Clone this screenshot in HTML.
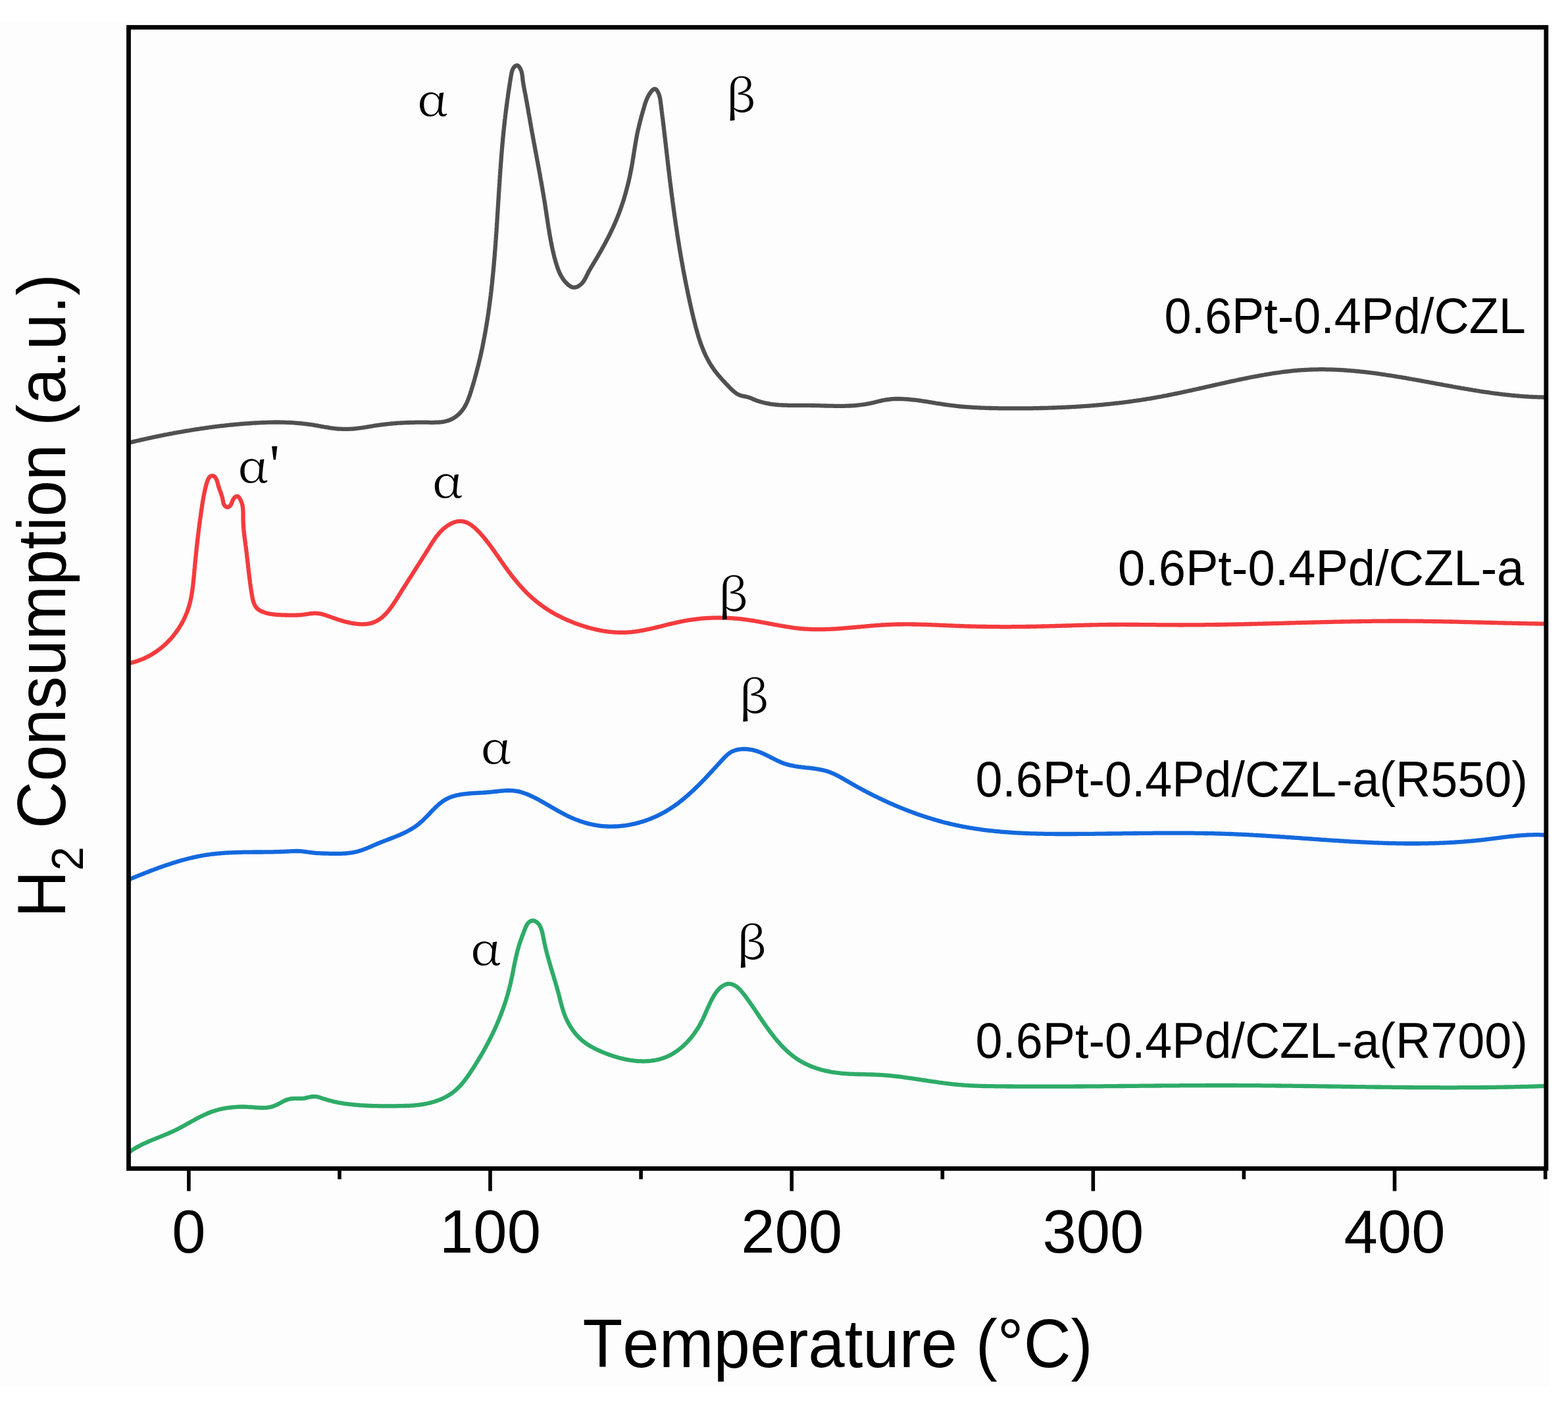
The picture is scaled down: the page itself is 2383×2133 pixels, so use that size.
<!DOCTYPE html><html><head><meta charset="utf-8"><title>H2-TPR</title><style>html,body{margin:0;padding:0;background:#fff;}svg{display:block;font-kerning:none}</style></head><body>
<svg width="2383" height="2133" viewBox="0 0 2383 2133">
<rect x="0" y="0" width="2383" height="2133" fill="#ffffff"/>
<rect x="0" y="33" width="2356" height="2074" fill="#fdfdfd"/>
<g fill="none" stroke-width="6.3" stroke-linejoin="round" stroke-linecap="butt">
<path stroke="#505050" d="M195.5 672.7 L197.4 672.3 L199.4 671.8 L201.3 671.4 L203.3 670.9 L205.2 670.4 L207.2 670.0 L209.1 669.5 L211.1 669.1 L213.0 668.6 L215.0 668.2 L216.9 667.8 L218.9 667.3 L220.8 666.9 L222.8 666.5 L224.7 666.0 L226.7 665.6 L228.6 665.2 L230.6 664.8 L232.5 664.3 L234.5 663.9 L236.4 663.5 L238.4 663.1 L240.4 662.7 L242.3 662.3 L244.3 661.9 L246.2 661.5 L248.2 661.1 L250.2 660.7 L252.1 660.3 L254.1 660.0 L256.0 659.6 L258.0 659.2 L260.0 658.8 L261.9 658.5 L263.9 658.1 L265.9 657.7 L267.8 657.4 L269.8 657.0 L271.8 656.7 L273.7 656.3 L275.7 656.0 L277.7 655.6 L279.6 655.3 L281.6 654.9 L283.6 654.6 L285.6 654.3 L287.5 654.0 L289.5 653.6 L291.5 653.3 L293.5 653.0 L295.4 652.7 L297.4 652.4 L299.4 652.1 L301.4 651.8 L303.3 651.5 L305.3 651.2 L307.3 650.9 L309.3 650.6 L311.3 650.3 L313.2 650.0 L315.2 649.8 L317.2 649.5 L319.2 649.2 L321.2 649.0 L323.1 648.7 L325.1 648.5 L327.1 648.2 L329.1 648.0 L331.1 647.7 L333.1 647.5 L335.0 647.2 L337.0 647.0 L339.0 646.8 L341.0 646.6 L343.0 646.3 L345.0 646.1 L347.0 645.9 L349.0 645.7 L350.9 645.5 L352.9 645.3 L354.9 645.1 L356.9 644.9 L358.9 644.7 L360.9 644.6 L362.9 644.4 L364.9 644.2 L366.9 644.0 L368.9 643.9 L370.9 643.7 L372.9 643.6 L374.9 643.4 L376.8 643.3 L378.8 643.1 L380.8 643.0 L382.8 642.9 L384.8 642.7 L386.8 642.6 L388.8 642.5 L390.8 642.4 L392.8 642.3 L394.8 642.2 L396.8 642.1 L398.8 642.0 L400.8 641.9 L402.8 641.8 L404.8 641.8 L406.8 641.7 L408.8 641.7 L410.8 641.6 L412.8 641.6 L414.8 641.6 L416.8 641.5 L418.8 641.5 L420.8 641.5 L422.8 641.5 L424.8 641.5 L426.8 641.6 L428.8 641.6 L430.8 641.6 L432.8 641.7 L434.8 641.8 L436.8 641.8 L438.8 641.9 L440.8 642.0 L442.8 642.1 L444.8 642.2 L446.8 642.3 L448.8 642.5 L450.8 642.6 L452.7 642.8 L454.7 643.0 L456.7 643.2 L458.7 643.4 L460.7 643.6 L462.7 643.8 L464.7 644.0 L466.7 644.3 L468.6 644.5 L470.6 644.8 L472.6 645.1 L474.6 645.4 L476.6 645.7 L478.5 646.1 L480.5 646.4 L482.5 646.7 L484.4 647.1 L486.4 647.4 L488.4 647.8 L490.3 648.1 L492.3 648.5 L494.3 648.8 L496.3 649.1 L498.2 649.4 L500.2 649.8 L502.2 650.1 L504.2 650.3 L506.1 650.6 L508.1 650.8 L510.1 651.1 L512.1 651.3 L514.1 651.5 L516.1 651.6 L518.1 651.7 L520.1 651.8 L522.1 651.9 L524.1 651.9 L526.1 651.9 L528.1 651.9 L530.1 651.8 L532.1 651.7 L534.1 651.6 L536.1 651.5 L538.1 651.3 L540.0 651.1 L542.0 650.9 L544.0 650.6 L546.0 650.4 L548.0 650.1 L550.0 649.9 L551.9 649.6 L553.9 649.3 L555.9 649.0 L557.9 648.6 L559.8 648.3 L561.8 648.0 L563.8 647.7 L565.8 647.4 L567.7 647.0 L569.7 646.7 L571.7 646.4 L573.7 646.1 L575.6 645.8 L577.6 645.5 L579.6 645.3 L581.6 645.0 L583.6 644.8 L585.6 644.5 L587.5 644.3 L589.5 644.1 L591.5 643.9 L593.5 643.7 L595.5 643.5 L597.5 643.3 L599.5 643.2 L601.5 643.0 L603.5 642.9 L605.5 642.7 L607.5 642.6 L609.5 642.5 L611.5 642.4 L613.5 642.3 L615.4 642.2 L617.4 642.1 L619.4 642.0 L621.4 642.0 L623.4 641.9 L625.4 641.9 L627.4 641.8 L629.4 641.8 L631.4 641.7 L633.4 641.7 L635.4 641.7 L637.4 641.7 L639.4 641.7 L641.4 641.7 L643.4 641.7 L645.4 641.7 L647.4 641.7 L649.4 641.7 L651.4 641.7 L653.4 641.8 L655.4 641.8 L657.4 641.8 L659.4 641.8 L661.4 641.7 L663.4 641.7 L665.4 641.6 L667.4 641.5 L669.4 641.3 L671.4 641.1 L673.4 640.8 L675.4 640.5 L677.3 640.0 L679.2 639.5 L681.2 639.0 L683.0 638.3 L684.9 637.5 L686.7 636.7 L688.4 635.7 L690.2 634.7 L691.8 633.6 L693.4 632.4 L695.0 631.2 L696.5 629.8 L698.0 628.5 L699.4 627.0 L700.7 625.6 L702.0 624.0 L703.2 622.4 L704.4 620.8 L705.5 619.1 L706.5 617.4 L707.5 615.7 L708.4 613.9 L709.3 612.1 L710.1 610.3 L710.9 608.4 L711.6 606.6 L712.3 604.7 L713.0 602.8 L713.7 601.0 L714.3 599.1 L714.9 597.2 L715.6 595.3 L716.2 593.3 L716.7 591.4 L717.3 589.5 L717.9 587.6 L718.5 585.7 L719.1 583.8 L719.6 581.9 L720.2 579.9 L720.7 578.0 L721.3 576.1 L721.8 574.2 L722.3 572.2 L722.9 570.3 L723.4 568.4 L723.9 566.5 L724.4 564.5 L724.9 562.6 L725.4 560.6 L725.9 558.7 L726.4 556.8 L726.9 554.8 L727.4 552.9 L727.8 550.9 L728.3 549.0 L728.8 547.1 L729.2 545.1 L729.7 543.2 L730.1 541.2 L730.6 539.3 L731.0 537.3 L731.4 535.4 L731.8 533.4 L732.3 531.4 L732.7 529.5 L733.1 527.5 L733.5 525.6 L733.9 523.6 L734.3 521.7 L734.7 519.7 L735.0 517.7 L735.4 515.8 L735.8 513.8 L736.2 511.8 L736.5 509.9 L736.9 507.9 L737.3 505.9 L737.6 504.0 L738.0 502.0 L738.3 500.0 L738.6 498.1 L739.0 496.1 L739.3 494.1 L739.6 492.1 L739.9 490.2 L740.3 488.2 L740.6 486.2 L740.9 484.2 L741.2 482.3 L741.5 480.3 L741.8 478.3 L742.1 476.3 L742.4 474.4 L742.6 472.4 L742.9 470.4 L743.2 468.4 L743.5 466.4 L743.7 464.5 L744.0 462.5 L744.3 460.5 L744.5 458.5 L744.8 456.5 L745.0 454.5 L745.3 452.6 L745.5 450.6 L745.8 448.6 L746.0 446.6 L746.2 444.6 L746.5 442.6 L746.7 440.6 L746.9 438.7 L747.1 436.7 L747.4 434.7 L747.6 432.7 L747.8 430.7 L748.0 428.7 L748.2 426.7 L748.4 424.7 L748.6 422.8 L748.8 420.8 L749.0 418.8 L749.2 416.8 L749.4 414.8 L749.6 412.8 L749.8 410.8 L750.0 408.8 L750.1 406.8 L750.3 404.8 L750.5 402.9 L750.7 400.9 L750.8 398.9 L751.0 396.9 L751.2 394.9 L751.3 392.9 L751.5 390.9 L751.7 388.9 L751.8 386.9 L752.0 384.9 L752.1 382.9 L752.3 380.9 L752.5 378.9 L752.6 376.9 L752.8 374.9 L752.9 373.0 L753.1 371.0 L753.2 369.0 L753.3 367.0 L753.5 365.0 L753.6 363.0 L753.8 361.0 L753.9 359.0 L754.0 357.0 L754.2 355.0 L754.3 353.0 L754.5 351.0 L754.6 349.0 L754.7 347.0 L754.9 345.0 L755.0 343.0 L755.1 341.0 L755.2 339.0 L755.4 337.0 L755.5 335.1 L755.6 333.1 L755.8 331.1 L755.9 329.1 L756.0 327.1 L756.1 325.1 L756.3 323.1 L756.4 321.1 L756.5 319.1 L756.6 317.1 L756.8 315.1 L756.9 313.1 L757.0 311.1 L757.1 309.1 L757.3 307.1 L757.4 305.1 L757.5 303.1 L757.6 301.1 L757.8 299.1 L757.9 297.1 L758.0 295.1 L758.1 293.1 L758.3 291.2 L758.4 289.2 L758.5 287.2 L758.6 285.2 L758.8 283.2 L758.9 281.2 L759.0 279.2 L759.2 277.2 L759.3 275.2 L759.4 273.2 L759.6 271.2 L759.7 269.2 L759.8 267.2 L760.0 265.2 L760.1 263.2 L760.2 261.2 L760.4 259.2 L760.5 257.2 L760.7 255.2 L760.8 253.2 L761.0 251.3 L761.1 249.3 L761.3 247.3 L761.4 245.3 L761.6 243.3 L761.7 241.3 L761.9 239.3 L762.0 237.3 L762.2 235.3 L762.3 233.3 L762.5 231.3 L762.7 229.3 L762.8 227.3 L763.0 225.3 L763.2 223.3 L763.3 221.4 L763.5 219.4 L763.7 217.4 L763.9 215.4 L764.1 213.4 L764.2 211.4 L764.4 209.4 L764.6 207.4 L764.8 205.4 L765.0 203.4 L765.2 201.4 L765.4 199.5 L765.6 197.5 L765.8 195.5 L766.0 193.5 L766.2 191.5 L766.5 189.5 L766.7 187.5 L766.9 185.5 L767.1 183.6 L767.3 181.6 L767.6 179.6 L767.8 177.6 L768.0 175.6 L768.3 173.6 L768.5 171.6 L768.8 169.7 L769.0 167.7 L769.3 165.7 L769.5 163.7 L769.8 161.7 L770.0 159.7 L770.3 157.8 L770.6 155.8 L770.8 153.8 L771.1 151.8 L771.4 149.8 L771.7 147.9 L771.9 145.9 L772.2 143.9 L772.5 141.9 L772.8 139.9 L773.1 138.0 L773.4 136.0 L773.7 134.0 L774.0 132.0 L774.3 130.1 L774.6 128.1 L774.9 126.1 L775.2 124.1 L775.5 122.2 L775.8 120.2 L776.2 118.2 L776.5 116.2 L776.8 114.3 L777.2 112.3 L777.6 110.3 L778.1 108.4 L778.7 106.5 L779.5 104.7 L780.5 103.0 L781.8 101.4 L783.3 100.1 L785.1 99.3 L787.0 99.7 L788.5 101.0 L789.7 102.6 L790.7 104.3 L791.6 106.1 L792.3 108.0 L792.9 109.9 L793.3 111.9 L793.6 113.8 L793.9 115.8 L794.1 117.8 L794.3 119.8 L794.5 121.8 L794.8 123.8 L795.1 125.7 L795.4 127.7 L795.7 129.7 L796.1 131.7 L796.5 133.6 L796.8 135.6 L797.2 137.5 L797.6 139.5 L798.0 141.5 L798.4 143.4 L798.8 145.4 L799.1 147.4 L799.5 149.3 L799.8 151.3 L800.2 153.3 L800.6 155.2 L800.9 157.2 L801.3 159.2 L801.6 161.1 L802.0 163.1 L802.3 165.1 L802.7 167.0 L803.0 169.0 L803.3 171.0 L803.7 173.0 L804.0 174.9 L804.4 176.9 L804.7 178.9 L805.1 180.8 L805.4 182.8 L805.7 184.8 L806.1 186.7 L806.4 188.7 L806.8 190.7 L807.1 192.6 L807.5 194.6 L807.8 196.6 L808.2 198.6 L808.5 200.5 L808.9 202.5 L809.3 204.5 L809.6 206.4 L810.0 208.4 L810.3 210.4 L810.7 212.3 L811.1 214.3 L811.4 216.3 L811.8 218.2 L812.2 220.2 L812.5 222.2 L812.9 224.1 L813.2 226.1 L813.6 228.1 L814.0 230.0 L814.3 232.0 L814.7 233.9 L815.1 235.9 L815.4 237.9 L815.8 239.8 L816.2 241.8 L816.5 243.8 L816.9 245.7 L817.3 247.7 L817.6 249.7 L818.0 251.6 L818.4 253.6 L818.7 255.6 L819.1 257.5 L819.4 259.5 L819.8 261.5 L820.2 263.4 L820.5 265.4 L820.9 267.4 L821.2 269.3 L821.6 271.3 L821.9 273.3 L822.3 275.2 L822.6 277.2 L823.0 279.2 L823.3 281.2 L823.7 283.1 L824.0 285.1 L824.4 287.1 L824.7 289.0 L825.0 291.0 L825.4 293.0 L825.7 294.9 L826.0 296.9 L826.4 298.9 L826.7 300.9 L827.0 302.8 L827.4 304.8 L827.7 306.8 L828.0 308.8 L828.3 310.7 L828.6 312.7 L828.9 314.7 L829.2 316.7 L829.5 318.6 L829.8 320.6 L830.1 322.6 L830.4 324.6 L830.7 326.5 L831.0 328.5 L831.3 330.5 L831.6 332.5 L831.9 334.4 L832.2 336.4 L832.5 338.4 L832.8 340.4 L833.1 342.4 L833.4 344.3 L833.7 346.3 L834.1 348.3 L834.4 350.3 L834.7 352.2 L835.0 354.2 L835.4 356.2 L835.7 358.1 L836.0 360.1 L836.4 362.1 L836.8 364.0 L837.1 366.0 L837.5 368.0 L837.9 369.9 L838.3 371.9 L838.7 373.9 L839.1 375.8 L839.5 377.8 L839.9 379.7 L840.4 381.7 L840.8 383.6 L841.3 385.6 L841.8 387.5 L842.2 389.5 L842.7 391.4 L843.3 393.3 L843.8 395.2 L844.3 397.2 L844.9 399.1 L845.5 401.0 L846.1 402.9 L846.7 404.8 L847.3 406.7 L848.0 408.6 L848.7 410.5 L849.5 412.3 L850.2 414.1 L851.1 416.0 L852.0 417.7 L852.9 419.5 L854.0 421.2 L855.0 422.9 L856.2 424.6 L857.4 426.2 L858.6 427.7 L860.0 429.2 L861.4 430.6 L862.8 432.0 L864.3 433.3 L866.0 434.5 L867.7 435.5 L869.5 436.2 L871.5 436.7 L873.5 436.7 L875.4 436.4 L877.3 435.7 L879.1 434.7 L880.8 433.6 L882.3 432.4 L883.8 431.1 L885.2 429.6 L886.4 428.0 L887.6 426.4 L888.6 424.7 L889.6 423.0 L890.5 421.2 L891.3 419.4 L892.2 417.6 L893.1 415.8 L894.0 414.0 L895.0 412.2 L895.9 410.5 L896.9 408.8 L897.9 407.0 L898.9 405.3 L900.0 403.6 L901.0 401.9 L902.0 400.1 L903.1 398.4 L904.1 396.7 L905.1 395.0 L906.1 393.3 L907.1 391.6 L908.2 389.8 L909.2 388.1 L910.2 386.4 L911.2 384.7 L912.2 382.9 L913.2 381.2 L914.2 379.5 L915.1 377.7 L916.1 376.0 L917.1 374.2 L918.1 372.5 L919.0 370.7 L920.0 369.0 L920.9 367.2 L921.8 365.4 L922.8 363.7 L923.7 361.9 L924.6 360.1 L925.5 358.3 L926.4 356.5 L927.3 354.7 L928.2 352.9 L929.0 351.1 L929.9 349.3 L930.8 347.5 L931.6 345.7 L932.4 343.9 L933.2 342.1 L934.1 340.2 L934.9 338.4 L935.6 336.6 L936.4 334.7 L937.2 332.9 L937.9 331.0 L938.7 329.2 L939.4 327.3 L940.1 325.5 L940.9 323.6 L941.6 321.7 L942.2 319.8 L942.9 318.0 L943.6 316.1 L944.3 314.2 L944.9 312.3 L945.5 310.4 L946.2 308.5 L946.8 306.6 L947.4 304.7 L948.0 302.8 L948.6 300.9 L949.2 299.0 L949.7 297.0 L950.3 295.1 L950.8 293.2 L951.4 291.3 L951.9 289.3 L952.4 287.4 L952.9 285.5 L953.4 283.5 L953.9 281.6 L954.4 279.7 L954.9 277.7 L955.4 275.8 L955.8 273.8 L956.2 271.9 L956.7 269.9 L957.1 268.0 L957.5 266.0 L957.9 264.1 L958.3 262.1 L958.7 260.1 L959.1 258.2 L959.5 256.2 L959.8 254.3 L960.2 252.3 L960.5 250.3 L960.9 248.3 L961.2 246.4 L961.5 244.4 L961.8 242.4 L962.2 240.4 L962.5 238.5 L962.8 236.5 L963.1 234.5 L963.4 232.5 L963.7 230.6 L964.0 228.6 L964.3 226.6 L964.7 224.6 L965.0 222.7 L965.3 220.7 L965.6 218.7 L966.0 216.8 L966.3 214.8 L966.6 212.8 L967.0 210.9 L967.4 208.9 L967.7 206.9 L968.1 205.0 L968.5 203.0 L968.9 201.0 L969.3 199.1 L969.8 197.1 L970.2 195.2 L970.7 193.2 L971.1 191.3 L971.6 189.3 L972.1 187.4 L972.6 185.5 L973.1 183.5 L973.6 181.6 L974.1 179.7 L974.6 177.7 L975.2 175.8 L975.7 173.9 L976.2 172.0 L976.8 170.0 L977.3 168.1 L977.9 166.2 L978.4 164.3 L979.0 162.3 L979.5 160.4 L980.1 158.5 L980.7 156.6 L981.4 154.7 L982.1 152.8 L982.8 151.0 L983.6 149.2 L984.5 147.4 L985.4 145.6 L986.4 143.9 L987.5 142.2 L988.6 140.5 L989.8 138.9 L991.1 137.4 L992.6 136.0 L994.3 135.1 L996.2 135.3 L997.8 136.5 L998.9 138.1 L999.9 139.9 L1000.8 141.7 L1001.5 143.5 L1002.1 145.4 L1002.6 147.4 L1003.1 149.3 L1003.4 151.3 L1003.7 153.3 L1003.9 155.3 L1004.2 157.2 L1004.5 159.2 L1004.7 161.2 L1005.0 163.2 L1005.2 165.2 L1005.5 167.2 L1005.7 169.1 L1006.0 171.1 L1006.2 173.1 L1006.5 175.1 L1006.7 177.1 L1007.0 179.1 L1007.2 181.0 L1007.5 183.0 L1007.7 185.0 L1007.9 187.0 L1008.2 189.0 L1008.4 191.0 L1008.7 193.0 L1008.9 194.9 L1009.1 196.9 L1009.4 198.9 L1009.6 200.9 L1009.8 202.9 L1010.1 204.9 L1010.3 206.9 L1010.5 208.8 L1010.8 210.8 L1011.0 212.8 L1011.2 214.8 L1011.4 216.8 L1011.7 218.8 L1011.9 220.8 L1012.1 222.7 L1012.4 224.7 L1012.6 226.7 L1012.8 228.7 L1013.0 230.7 L1013.3 232.7 L1013.5 234.7 L1013.7 236.7 L1014.0 238.6 L1014.2 240.6 L1014.4 242.6 L1014.7 244.6 L1014.9 246.6 L1015.1 248.6 L1015.3 250.6 L1015.6 252.5 L1015.8 254.5 L1016.0 256.5 L1016.3 258.5 L1016.5 260.5 L1016.8 262.5 L1017.0 264.5 L1017.2 266.4 L1017.5 268.4 L1017.7 270.4 L1018.0 272.4 L1018.2 274.4 L1018.4 276.4 L1018.7 278.3 L1018.9 280.3 L1019.2 282.3 L1019.4 284.3 L1019.7 286.3 L1019.9 288.3 L1020.2 290.3 L1020.4 292.2 L1020.7 294.2 L1020.9 296.2 L1021.2 298.2 L1021.5 300.2 L1021.7 302.2 L1022.0 304.1 L1022.2 306.1 L1022.5 308.1 L1022.8 310.1 L1023.0 312.1 L1023.3 314.0 L1023.6 316.0 L1023.8 318.0 L1024.1 320.0 L1024.4 322.0 L1024.7 323.9 L1024.9 325.9 L1025.2 327.9 L1025.5 329.9 L1025.8 331.9 L1026.1 333.8 L1026.3 335.8 L1026.6 337.8 L1026.9 339.8 L1027.2 341.8 L1027.5 343.7 L1027.8 345.7 L1028.1 347.7 L1028.4 349.7 L1028.7 351.6 L1029.0 353.6 L1029.3 355.6 L1029.6 357.6 L1029.9 359.6 L1030.2 361.5 L1030.5 363.5 L1030.8 365.5 L1031.1 367.5 L1031.5 369.4 L1031.8 371.4 L1032.1 373.4 L1032.4 375.3 L1032.7 377.3 L1033.1 379.3 L1033.4 381.3 L1033.7 383.2 L1034.1 385.2 L1034.4 387.2 L1034.7 389.2 L1035.1 391.1 L1035.4 393.1 L1035.8 395.1 L1036.1 397.0 L1036.5 399.0 L1036.8 401.0 L1037.2 402.9 L1037.5 404.9 L1037.9 406.9 L1038.2 408.8 L1038.6 410.8 L1039.0 412.8 L1039.3 414.7 L1039.7 416.7 L1040.1 418.7 L1040.5 420.6 L1040.8 422.6 L1041.2 424.6 L1041.6 426.5 L1042.0 428.5 L1042.4 430.4 L1042.8 432.4 L1043.2 434.4 L1043.6 436.3 L1044.0 438.3 L1044.4 440.2 L1044.8 442.2 L1045.2 444.2 L1045.6 446.1 L1046.0 448.1 L1046.4 450.0 L1046.8 452.0 L1047.3 453.9 L1047.7 455.9 L1048.1 457.8 L1048.5 459.8 L1049.0 461.7 L1049.4 463.7 L1049.9 465.6 L1050.3 467.6 L1050.7 469.5 L1051.2 471.5 L1051.6 473.4 L1052.1 475.4 L1052.5 477.3 L1053.0 479.3 L1053.5 481.2 L1053.9 483.2 L1054.4 485.1 L1054.9 487.1 L1055.4 489.0 L1055.9 490.9 L1056.3 492.9 L1056.8 494.8 L1057.3 496.7 L1057.9 498.7 L1058.4 500.6 L1058.9 502.5 L1059.5 504.5 L1060.0 506.4 L1060.6 508.3 L1061.2 510.2 L1061.7 512.1 L1062.3 514.0 L1063.0 515.9 L1063.6 517.8 L1064.2 519.7 L1064.9 521.6 L1065.6 523.5 L1066.3 525.4 L1067.0 527.2 L1067.7 529.1 L1068.5 530.9 L1069.2 532.8 L1070.0 534.6 L1070.8 536.5 L1071.7 538.3 L1072.5 540.1 L1073.4 541.9 L1074.3 543.7 L1075.2 545.4 L1076.2 547.2 L1077.1 549.0 L1078.1 550.7 L1079.1 552.4 L1080.2 554.1 L1081.2 555.8 L1082.3 557.5 L1083.5 559.1 L1084.6 560.8 L1085.8 562.4 L1087.0 564.0 L1088.2 565.6 L1089.4 567.1 L1090.7 568.7 L1092.0 570.2 L1093.3 571.8 L1094.6 573.3 L1095.9 574.8 L1097.2 576.3 L1098.6 577.8 L1099.9 579.2 L1101.3 580.7 L1102.6 582.2 L1104.0 583.6 L1105.4 585.0 L1106.8 586.5 L1108.2 587.9 L1109.6 589.4 L1111.0 590.8 L1112.4 592.2 L1113.9 593.5 L1115.4 594.9 L1116.9 596.1 L1118.5 597.3 L1120.2 598.4 L1122.0 599.3 L1123.8 600.2 L1125.7 600.8 L1127.6 601.4 L1129.6 601.8 L1131.5 602.2 L1133.5 602.6 L1135.4 603.0 L1137.4 603.5 L1139.3 604.2 L1141.1 604.9 L1143.0 605.7 L1144.8 606.5 L1146.6 607.2 L1148.5 608.0 L1150.4 608.7 L1152.3 609.3 L1154.2 609.9 L1156.1 610.5 L1158.0 611.0 L1160.0 611.5 L1161.9 612.0 L1163.8 612.4 L1165.8 612.8 L1167.8 613.2 L1169.7 613.6 L1171.7 613.9 L1173.7 614.1 L1175.7 614.4 L1177.7 614.6 L1179.7 614.8 L1181.6 615.0 L1183.6 615.2 L1185.6 615.3 L1187.6 615.4 L1189.6 615.5 L1191.6 615.6 L1193.6 615.7 L1195.6 615.7 L1197.6 615.8 L1199.6 615.8 L1201.6 615.8 L1203.6 615.9 L1205.6 615.9 L1207.6 615.9 L1209.6 615.9 L1211.6 615.9 L1213.6 615.9 L1215.6 615.9 L1217.6 615.8 L1219.6 615.8 L1221.6 615.8 L1223.6 615.8 L1225.6 615.9 L1227.6 615.9 L1229.6 615.9 L1231.6 615.9 L1233.6 616.0 L1235.6 616.0 L1237.6 616.0 L1239.6 616.1 L1241.6 616.1 L1243.6 616.2 L1245.6 616.2 L1247.6 616.3 L1249.6 616.4 L1251.6 616.4 L1253.6 616.5 L1255.6 616.5 L1257.6 616.6 L1259.6 616.6 L1261.6 616.7 L1263.6 616.7 L1265.6 616.7 L1267.6 616.8 L1269.6 616.8 L1271.6 616.8 L1273.6 616.8 L1275.6 616.8 L1277.6 616.8 L1279.6 616.8 L1281.6 616.8 L1283.6 616.8 L1285.6 616.7 L1287.6 616.6 L1289.6 616.6 L1291.6 616.5 L1293.6 616.4 L1295.6 616.3 L1297.6 616.1 L1299.6 616.0 L1301.6 615.8 L1303.5 615.6 L1305.5 615.4 L1307.5 615.2 L1309.5 614.9 L1311.5 614.7 L1313.5 614.4 L1315.4 614.1 L1317.4 613.7 L1319.4 613.4 L1321.3 613.0 L1323.3 612.6 L1325.3 612.2 L1327.2 611.7 L1329.1 611.3 L1331.1 610.8 L1333.0 610.3 L1335.0 609.8 L1336.9 609.3 L1338.9 608.9 L1340.8 608.4 L1342.8 608.0 L1344.7 607.7 L1346.7 607.3 L1348.7 607.0 L1350.7 606.8 L1352.6 606.5 L1354.6 606.4 L1356.6 606.2 L1358.6 606.1 L1360.6 606.0 L1362.6 606.0 L1364.6 606.0 L1366.6 606.0 L1368.6 606.0 L1370.6 606.1 L1372.6 606.2 L1374.6 606.3 L1376.6 606.4 L1378.6 606.5 L1380.6 606.7 L1382.6 606.9 L1384.6 607.1 L1386.6 607.3 L1388.6 607.5 L1390.5 607.7 L1392.5 607.9 L1394.5 608.2 L1396.5 608.5 L1398.5 608.7 L1400.5 609.0 L1402.4 609.3 L1404.4 609.6 L1406.4 609.9 L1408.4 610.2 L1410.3 610.5 L1412.3 610.9 L1414.3 611.2 L1416.3 611.5 L1418.2 611.8 L1420.2 612.1 L1422.2 612.5 L1424.2 612.8 L1426.1 613.1 L1428.1 613.4 L1430.1 613.7 L1432.1 614.0 L1434.0 614.3 L1436.0 614.6 L1438.0 614.9 L1440.0 615.2 L1441.9 615.4 L1443.9 615.7 L1445.9 615.9 L1447.9 616.2 L1449.9 616.4 L1451.9 616.6 L1453.9 616.9 L1455.9 617.1 L1457.8 617.3 L1459.8 617.5 L1461.8 617.6 L1463.8 617.8 L1465.8 618.0 L1467.8 618.1 L1469.8 618.3 L1471.8 618.4 L1473.8 618.6 L1475.8 618.7 L1477.8 618.8 L1479.8 619.0 L1481.8 619.1 L1483.8 619.2 L1485.8 619.3 L1487.8 619.4 L1489.8 619.5 L1491.7 619.6 L1493.7 619.6 L1495.7 619.7 L1497.7 619.8 L1499.7 619.9 L1501.7 619.9 L1503.7 620.0 L1505.7 620.0 L1507.7 620.1 L1509.7 620.1 L1511.7 620.2 L1513.7 620.2 L1515.7 620.2 L1517.7 620.3 L1519.7 620.3 L1521.7 620.3 L1523.7 620.3 L1525.7 620.4 L1527.7 620.4 L1529.7 620.4 L1531.7 620.4 L1533.7 620.4 L1535.7 620.4 L1537.7 620.4 L1539.7 620.4 L1541.7 620.4 L1543.7 620.4 L1545.7 620.4 L1547.7 620.4 L1549.7 620.4 L1551.7 620.4 L1553.7 620.4 L1555.7 620.4 L1557.7 620.4 L1559.7 620.4 L1561.7 620.4 L1563.7 620.3 L1565.7 620.3 L1567.7 620.3 L1569.7 620.3 L1571.7 620.2 L1573.7 620.2 L1575.7 620.2 L1577.7 620.1 L1579.7 620.1 L1581.7 620.0 L1583.7 620.0 L1585.7 619.9 L1587.7 619.9 L1589.7 619.8 L1591.7 619.8 L1593.7 619.7 L1595.7 619.7 L1597.7 619.6 L1599.7 619.5 L1601.7 619.5 L1603.7 619.4 L1605.7 619.3 L1607.7 619.2 L1609.7 619.1 L1611.7 619.1 L1613.7 619.0 L1615.7 618.9 L1617.7 618.8 L1619.7 618.7 L1621.7 618.6 L1623.7 618.5 L1625.7 618.4 L1627.7 618.3 L1629.7 618.2 L1631.7 618.1 L1633.7 618.0 L1635.6 617.8 L1637.6 617.7 L1639.6 617.6 L1641.6 617.5 L1643.6 617.3 L1645.6 617.2 L1647.6 617.1 L1649.6 616.9 L1651.6 616.8 L1653.6 616.6 L1655.6 616.5 L1657.6 616.3 L1659.6 616.2 L1661.6 616.0 L1663.6 615.8 L1665.6 615.7 L1667.6 615.5 L1669.5 615.3 L1671.5 615.1 L1673.5 615.0 L1675.5 614.8 L1677.5 614.6 L1679.5 614.4 L1681.5 614.2 L1683.5 614.0 L1685.5 613.8 L1687.5 613.6 L1689.4 613.4 L1691.4 613.2 L1693.4 612.9 L1695.4 612.7 L1697.4 612.5 L1699.4 612.3 L1701.4 612.0 L1703.4 611.8 L1705.3 611.6 L1707.3 611.3 L1709.3 611.1 L1711.3 610.8 L1713.3 610.6 L1715.3 610.3 L1717.2 610.0 L1719.2 609.8 L1721.2 609.5 L1723.2 609.2 L1725.2 608.9 L1727.1 608.7 L1729.1 608.4 L1731.1 608.1 L1733.1 607.8 L1735.1 607.5 L1737.0 607.2 L1739.0 606.9 L1741.0 606.6 L1743.0 606.2 L1744.9 605.9 L1746.9 605.6 L1748.9 605.3 L1750.8 604.9 L1752.8 604.6 L1754.8 604.2 L1756.8 603.9 L1758.7 603.5 L1760.7 603.2 L1762.7 602.8 L1764.6 602.5 L1766.6 602.1 L1768.5 601.7 L1770.5 601.3 L1772.5 601.0 L1774.4 600.6 L1776.4 600.2 L1778.4 599.8 L1780.3 599.4 L1782.3 599.0 L1784.2 598.6 L1786.2 598.2 L1788.2 597.8 L1790.1 597.4 L1792.1 597.0 L1794.0 596.6 L1796.0 596.2 L1797.9 595.7 L1799.9 595.3 L1801.8 594.9 L1803.8 594.5 L1805.8 594.0 L1807.7 593.6 L1809.7 593.2 L1811.6 592.8 L1813.6 592.3 L1815.5 591.9 L1817.5 591.5 L1819.4 591.0 L1821.4 590.6 L1823.3 590.1 L1825.3 589.7 L1827.2 589.3 L1829.2 588.8 L1831.1 588.4 L1833.1 587.9 L1835.0 587.5 L1837.0 587.1 L1838.9 586.6 L1840.9 586.2 L1842.8 585.7 L1844.8 585.3 L1846.7 584.9 L1848.7 584.4 L1850.6 584.0 L1852.6 583.5 L1854.5 583.1 L1856.5 582.7 L1858.4 582.2 L1860.4 581.8 L1862.3 581.4 L1864.3 580.9 L1866.2 580.5 L1868.2 580.1 L1870.1 579.6 L1872.1 579.2 L1874.1 578.8 L1876.0 578.4 L1878.0 578.0 L1879.9 577.5 L1881.9 577.1 L1883.8 576.7 L1885.8 576.3 L1887.7 575.9 L1889.7 575.5 L1891.7 575.1 L1893.6 574.7 L1895.6 574.3 L1897.5 573.9 L1899.5 573.5 L1901.5 573.1 L1903.4 572.7 L1905.4 572.4 L1907.4 572.0 L1909.3 571.6 L1911.3 571.3 L1913.3 570.9 L1915.2 570.5 L1917.2 570.2 L1919.2 569.8 L1921.1 569.5 L1923.1 569.1 L1925.1 568.8 L1927.0 568.5 L1929.0 568.2 L1931.0 567.8 L1933.0 567.5 L1934.9 567.2 L1936.9 566.9 L1938.9 566.6 L1940.9 566.3 L1942.8 566.1 L1944.8 565.8 L1946.8 565.5 L1948.8 565.2 L1950.8 565.0 L1952.8 564.7 L1954.7 564.5 L1956.7 564.3 L1958.7 564.0 L1960.7 563.8 L1962.7 563.6 L1964.7 563.4 L1966.7 563.2 L1968.7 563.0 L1970.7 562.9 L1972.6 562.7 L1974.6 562.5 L1976.6 562.4 L1978.6 562.2 L1980.6 562.1 L1982.6 562.0 L1984.6 561.9 L1986.6 561.8 L1988.6 561.7 L1990.6 561.6 L1992.6 561.5 L1994.6 561.4 L1996.6 561.4 L1998.6 561.3 L2000.6 561.3 L2002.6 561.3 L2004.6 561.2 L2006.6 561.2 L2008.6 561.2 L2010.6 561.2 L2012.6 561.2 L2014.6 561.3 L2016.6 561.3 L2018.6 561.3 L2020.6 561.4 L2022.6 561.4 L2024.6 561.5 L2026.6 561.6 L2028.6 561.6 L2030.6 561.7 L2032.6 561.8 L2034.6 561.9 L2036.6 562.0 L2038.6 562.1 L2040.6 562.2 L2042.6 562.4 L2044.6 562.5 L2046.6 562.6 L2048.5 562.8 L2050.5 562.9 L2052.5 563.1 L2054.5 563.3 L2056.5 563.4 L2058.5 563.6 L2060.5 563.8 L2062.5 564.0 L2064.5 564.2 L2066.5 564.4 L2068.5 564.6 L2070.4 564.8 L2072.4 565.0 L2074.4 565.2 L2076.4 565.5 L2078.4 565.7 L2080.4 565.9 L2082.4 566.2 L2084.3 566.4 L2086.3 566.7 L2088.3 566.9 L2090.3 567.2 L2092.3 567.5 L2094.3 567.7 L2096.2 568.0 L2098.2 568.3 L2100.2 568.6 L2102.2 568.9 L2104.2 569.2 L2106.1 569.5 L2108.1 569.8 L2110.1 570.1 L2112.1 570.4 L2114.0 570.7 L2116.0 571.0 L2118.0 571.3 L2120.0 571.6 L2121.9 571.9 L2123.9 572.3 L2125.9 572.6 L2127.9 572.9 L2129.8 573.2 L2131.8 573.6 L2133.8 573.9 L2135.7 574.2 L2137.7 574.6 L2139.7 574.9 L2141.7 575.3 L2143.6 575.6 L2145.6 576.0 L2147.6 576.3 L2149.5 576.7 L2151.5 577.0 L2153.5 577.4 L2155.4 577.7 L2157.4 578.1 L2159.4 578.4 L2161.3 578.8 L2163.3 579.2 L2165.3 579.5 L2167.2 579.9 L2169.2 580.2 L2171.2 580.6 L2173.1 581.0 L2175.1 581.3 L2177.1 581.7 L2179.0 582.1 L2181.0 582.4 L2183.0 582.8 L2184.9 583.1 L2186.9 583.5 L2188.9 583.9 L2190.8 584.2 L2192.8 584.6 L2194.8 585.0 L2196.7 585.3 L2198.7 585.7 L2200.7 586.0 L2202.6 586.4 L2204.6 586.7 L2206.6 587.1 L2208.5 587.5 L2210.5 587.8 L2212.5 588.2 L2214.4 588.5 L2216.4 588.9 L2218.4 589.2 L2220.3 589.6 L2222.3 589.9 L2224.3 590.2 L2226.3 590.6 L2228.2 590.9 L2230.2 591.2 L2232.2 591.6 L2234.1 591.9 L2236.1 592.2 L2238.1 592.6 L2240.1 592.9 L2242.0 593.2 L2244.0 593.5 L2246.0 593.8 L2248.0 594.1 L2249.9 594.5 L2251.9 594.8 L2253.9 595.1 L2255.9 595.4 L2257.8 595.6 L2259.8 595.9 L2261.8 596.2 L2263.8 596.5 L2265.8 596.8 L2267.7 597.1 L2269.7 597.3 L2271.7 597.6 L2273.7 597.8 L2275.7 598.1 L2277.7 598.4 L2279.6 598.6 L2281.6 598.8 L2283.6 599.1 L2285.6 599.3 L2287.6 599.5 L2289.6 599.8 L2291.6 600.0 L2293.5 600.2 L2295.5 600.4 L2297.5 600.6 L2299.5 600.8 L2301.5 601.0 L2303.5 601.2 L2305.5 601.3 L2307.5 601.5 L2309.5 601.7 L2311.5 601.8 L2313.5 602.0 L2315.4 602.1 L2317.4 602.3 L2319.4 602.4 L2321.4 602.5 L2323.4 602.7 L2325.4 602.8 L2327.4 602.9 L2329.4 603.0 L2331.4 603.1 L2333.4 603.1 L2335.4 603.2 L2337.4 603.3 L2339.4 603.3 L2341.4 603.4 L2343.4 603.4 L2345.4 603.5 L2347.4 603.5 L2349.4 603.5"/>
<path stroke="#f43b3e" d="M195.4 1007.8 L197.3 1007.4 L199.3 1007.0 L201.2 1006.5 L203.2 1006.0 L205.1 1005.4 L207.0 1004.8 L208.9 1004.2 L210.8 1003.5 L212.6 1002.8 L214.5 1002.1 L216.4 1001.4 L218.2 1000.6 L220.0 999.8 L221.8 998.9 L223.6 998.0 L225.4 997.1 L227.2 996.2 L228.9 995.2 L230.6 994.2 L232.3 993.2 L234.0 992.1 L235.7 991.0 L237.4 989.9 L239.0 988.7 L240.6 987.6 L242.2 986.4 L243.8 985.1 L245.4 983.9 L246.9 982.6 L248.4 981.3 L249.9 980.0 L251.4 978.6 L252.8 977.3 L254.3 975.9 L255.7 974.5 L257.1 973.0 L258.4 971.6 L259.8 970.1 L261.1 968.6 L262.4 967.1 L263.7 965.5 L264.9 963.9 L266.1 962.4 L267.3 960.8 L268.5 959.2 L269.6 957.5 L270.8 955.9 L271.9 954.2 L272.9 952.5 L274.0 950.8 L275.0 949.1 L276.0 947.4 L277.0 945.6 L277.9 943.9 L278.8 942.1 L279.7 940.3 L280.6 938.5 L281.4 936.7 L282.2 934.8 L283.0 933.0 L283.8 931.1 L284.5 929.3 L285.2 927.4 L285.8 925.5 L286.4 923.6 L287.0 921.7 L287.6 919.8 L288.1 917.9 L288.6 915.9 L289.1 914.0 L289.6 912.0 L290.0 910.1 L290.4 908.1 L290.8 906.2 L291.1 904.2 L291.5 902.2 L291.8 900.3 L292.1 898.3 L292.4 896.3 L292.7 894.3 L292.9 892.3 L293.2 890.4 L293.4 888.4 L293.6 886.4 L293.8 884.4 L294.0 882.4 L294.2 880.4 L294.4 878.4 L294.6 876.5 L294.8 874.5 L295.0 872.5 L295.1 870.5 L295.3 868.5 L295.5 866.5 L295.7 864.5 L295.9 862.5 L296.0 860.5 L296.2 858.5 L296.4 856.5 L296.6 854.6 L296.8 852.6 L297.0 850.6 L297.2 848.6 L297.4 846.6 L297.6 844.6 L297.8 842.6 L298.0 840.6 L298.2 838.6 L298.4 836.7 L298.6 834.7 L298.8 832.7 L299.0 830.7 L299.3 828.7 L299.5 826.7 L299.7 824.7 L299.9 822.8 L300.2 820.8 L300.4 818.8 L300.6 816.8 L300.9 814.8 L301.1 812.8 L301.3 810.8 L301.6 808.9 L301.8 806.9 L302.1 804.9 L302.3 802.9 L302.6 800.9 L302.8 798.9 L303.1 797.0 L303.4 795.0 L303.6 793.0 L303.9 791.0 L304.1 789.0 L304.4 787.1 L304.7 785.1 L305.0 783.1 L305.2 781.1 L305.5 779.1 L305.8 777.2 L306.1 775.2 L306.4 773.2 L306.7 771.2 L307.0 769.3 L307.3 767.3 L307.6 765.3 L307.9 763.3 L308.2 761.4 L308.5 759.4 L308.9 757.4 L309.2 755.5 L309.6 753.5 L310.0 751.5 L310.4 749.6 L310.8 747.6 L311.2 745.7 L311.6 743.7 L312.1 741.8 L312.6 739.8 L313.1 737.9 L313.6 736.0 L314.2 734.0 L314.7 732.1 L315.4 730.2 L316.1 728.4 L317.0 726.6 L318.2 725.0 L319.7 723.7 L321.5 722.9 L323.5 722.8 L325.3 723.6 L326.8 725.0 L328.0 726.6 L329.0 728.3 L329.7 730.2 L330.3 732.1 L330.8 734.0 L331.3 736.0 L331.8 737.9 L332.4 739.8 L333.0 741.7 L333.7 743.6 L334.4 745.5 L335.1 747.3 L335.8 749.2 L336.4 751.1 L337.0 753.0 L337.6 754.9 L338.1 756.9 L338.5 758.8 L338.9 760.8 L339.2 762.8 L339.7 764.7 L340.4 766.6 L341.5 768.3 L343.0 769.6 L344.8 770.4 L346.7 770.5 L348.5 769.6 L349.9 768.1 L351.0 766.5 L351.9 764.7 L352.6 762.8 L353.3 761.0 L354.2 759.1 L355.2 757.4 L356.4 755.9 L357.9 754.6 L359.8 753.8 L361.7 754.3 L363.1 755.6 L364.3 757.3 L365.3 759.0 L366.2 760.8 L366.9 762.6 L367.6 764.5 L368.1 766.5 L368.5 768.4 L368.9 770.4 L369.1 772.4 L369.3 774.4 L369.4 776.3 L369.5 778.3 L369.5 780.3 L369.5 782.3 L369.5 784.3 L369.5 786.3 L369.5 788.3 L369.5 790.3 L369.6 792.3 L369.7 794.3 L369.8 796.3 L369.9 798.3 L370.0 800.3 L370.2 802.3 L370.4 804.3 L370.5 806.3 L370.7 808.3 L371.0 810.3 L371.2 812.2 L371.4 814.2 L371.7 816.2 L371.9 818.2 L372.2 820.2 L372.4 822.2 L372.7 824.1 L373.0 826.1 L373.2 828.1 L373.5 830.1 L373.8 832.1 L374.0 834.0 L374.3 836.0 L374.5 838.0 L374.7 840.0 L375.0 842.0 L375.2 844.0 L375.4 846.0 L375.7 847.9 L375.9 849.9 L376.1 851.9 L376.4 853.9 L376.6 855.9 L376.8 857.9 L377.0 859.9 L377.2 861.8 L377.5 863.8 L377.7 865.8 L377.9 867.8 L378.2 869.8 L378.4 871.8 L378.6 873.8 L378.9 875.7 L379.1 877.7 L379.4 879.7 L379.6 881.7 L379.9 883.7 L380.1 885.6 L380.4 887.6 L380.7 889.6 L381.0 891.6 L381.2 893.6 L381.5 895.5 L381.8 897.5 L382.2 899.5 L382.5 901.5 L382.8 903.4 L383.1 905.4 L383.5 907.4 L383.9 909.3 L384.3 911.3 L384.8 913.2 L385.4 915.1 L386.1 917.0 L386.9 918.8 L387.9 920.6 L389.0 922.2 L390.3 923.8 L391.7 925.2 L393.3 926.4 L395.0 927.5 L396.7 928.4 L398.6 929.2 L400.4 929.9 L402.3 930.6 L404.2 931.2 L406.2 931.7 L408.1 932.1 L410.1 932.6 L412.0 932.9 L414.0 933.2 L416.0 933.5 L418.0 933.7 L420.0 933.9 L422.0 934.0 L424.0 934.1 L425.9 934.2 L427.9 934.3 L429.9 934.4 L431.9 934.4 L433.9 934.5 L435.9 934.5 L437.9 934.6 L439.9 934.6 L441.9 934.7 L443.9 934.7 L445.9 934.7 L447.9 934.6 L449.9 934.6 L451.9 934.5 L453.9 934.4 L455.9 934.3 L457.9 934.1 L459.9 933.9 L461.9 933.7 L463.9 933.4 L465.8 933.1 L467.8 932.8 L469.8 932.5 L471.8 932.2 L473.7 932.0 L475.7 931.8 L477.7 931.7 L479.7 931.7 L481.7 931.8 L483.7 932.0 L485.7 932.3 L487.7 932.7 L489.6 933.1 L491.5 933.6 L493.4 934.2 L495.4 934.8 L497.2 935.4 L499.1 936.1 L501.0 936.8 L502.9 937.4 L504.8 938.1 L506.7 938.8 L508.6 939.4 L510.4 940.1 L512.3 940.7 L514.2 941.4 L516.1 942.0 L518.0 942.6 L520.0 943.1 L521.9 943.7 L523.8 944.2 L525.7 944.7 L527.7 945.2 L529.6 945.6 L531.6 946.1 L533.5 946.5 L535.5 946.8 L537.5 947.2 L539.5 947.4 L541.4 947.7 L543.4 947.9 L545.4 948.1 L547.4 948.2 L549.4 948.3 L551.4 948.3 L553.4 948.2 L555.4 948.1 L557.4 948.0 L559.4 947.7 L561.3 947.4 L563.3 946.9 L565.2 946.4 L567.1 945.8 L569.0 945.0 L570.8 944.2 L572.6 943.3 L574.3 942.3 L576.0 941.3 L577.7 940.1 L579.3 938.9 L580.8 937.7 L582.3 936.4 L583.8 935.0 L585.2 933.6 L586.6 932.2 L587.9 930.7 L589.2 929.2 L590.5 927.6 L591.8 926.1 L593.0 924.5 L594.2 922.9 L595.3 921.3 L596.5 919.6 L597.6 918.0 L598.7 916.3 L599.8 914.6 L600.9 913.0 L602.0 911.3 L603.1 909.6 L604.1 907.9 L605.2 906.2 L606.2 904.5 L607.3 902.8 L608.4 901.1 L609.4 899.4 L610.5 897.7 L611.5 896.0 L612.6 894.3 L613.7 892.7 L614.7 891.0 L615.8 889.3 L616.9 887.6 L617.9 885.9 L619.0 884.2 L620.1 882.5 L621.2 880.8 L622.2 879.2 L623.3 877.5 L624.4 875.8 L625.5 874.1 L626.5 872.4 L627.6 870.7 L628.7 869.0 L629.8 867.4 L630.8 865.7 L631.9 864.0 L633.0 862.3 L634.1 860.6 L635.1 858.9 L636.2 857.2 L637.3 855.6 L638.4 853.9 L639.4 852.2 L640.5 850.5 L641.6 848.8 L642.6 847.1 L643.7 845.4 L644.8 843.7 L645.8 842.1 L646.9 840.4 L647.9 838.7 L649.0 837.0 L650.1 835.3 L651.1 833.6 L652.2 831.9 L653.2 830.2 L654.3 828.5 L655.4 826.8 L656.4 825.1 L657.5 823.4 L658.6 821.8 L659.7 820.1 L660.9 818.5 L662.0 816.8 L663.2 815.2 L664.4 813.6 L665.7 812.1 L667.0 810.6 L668.3 809.0 L669.6 807.6 L671.0 806.1 L672.5 804.8 L673.9 803.4 L675.5 802.1 L677.0 800.9 L678.6 799.7 L680.3 798.5 L682.0 797.5 L683.7 796.5 L685.5 795.5 L687.3 794.7 L689.1 793.9 L691.0 793.2 L692.9 792.7 L694.9 792.2 L696.8 791.9 L698.8 791.8 L700.8 791.8 L702.8 792.0 L704.8 792.4 L706.7 792.9 L708.6 793.5 L710.4 794.3 L712.2 795.2 L713.9 796.2 L715.6 797.3 L717.3 798.5 L718.8 799.7 L720.4 800.9 L721.9 802.2 L723.4 803.6 L724.8 805.0 L726.2 806.4 L727.6 807.8 L729.0 809.3 L730.3 810.8 L731.6 812.3 L733.0 813.8 L734.2 815.3 L735.5 816.8 L736.8 818.4 L738.1 819.9 L739.3 821.5 L740.5 823.1 L741.8 824.6 L743.0 826.2 L744.2 827.8 L745.4 829.4 L746.6 831.0 L747.8 832.6 L748.9 834.3 L750.1 835.9 L751.2 837.5 L752.4 839.1 L753.5 840.8 L754.7 842.4 L755.8 844.1 L757.0 845.7 L758.1 847.3 L759.2 849.0 L760.4 850.6 L761.5 852.3 L762.7 853.9 L763.8 855.6 L765.0 857.2 L766.1 858.8 L767.3 860.5 L768.4 862.1 L769.6 863.7 L770.8 865.3 L772.0 866.9 L773.1 868.5 L774.3 870.1 L775.6 871.7 L776.8 873.3 L778.0 874.9 L779.2 876.5 L780.5 878.0 L781.7 879.6 L783.0 881.1 L784.3 882.7 L785.5 884.2 L786.8 885.7 L788.1 887.2 L789.5 888.8 L790.8 890.2 L792.1 891.7 L793.5 893.2 L794.8 894.7 L796.2 896.1 L797.6 897.6 L799.0 899.0 L800.4 900.4 L801.8 901.8 L803.3 903.2 L804.7 904.6 L806.2 905.9 L807.6 907.3 L809.1 908.6 L810.6 909.9 L812.2 911.2 L813.7 912.5 L815.2 913.8 L816.8 915.0 L818.4 916.2 L820.0 917.5 L821.6 918.7 L823.2 919.8 L824.8 921.0 L826.4 922.1 L828.1 923.3 L829.8 924.4 L831.4 925.5 L833.1 926.6 L834.8 927.6 L836.5 928.7 L838.2 929.7 L839.9 930.7 L841.7 931.7 L843.4 932.7 L845.2 933.7 L846.9 934.6 L848.7 935.5 L850.5 936.4 L852.3 937.3 L854.0 938.2 L855.8 939.1 L857.7 939.9 L859.5 940.8 L861.3 941.6 L863.1 942.4 L865.0 943.2 L866.8 943.9 L868.7 944.7 L870.5 945.4 L872.4 946.2 L874.3 946.9 L876.1 947.6 L878.0 948.2 L879.9 948.9 L881.8 949.6 L883.7 950.2 L885.6 950.8 L887.5 951.4 L889.4 952.0 L891.3 952.6 L893.2 953.1 L895.1 953.7 L897.1 954.2 L899.0 954.7 L900.9 955.2 L902.9 955.7 L904.8 956.1 L906.8 956.6 L908.7 957.0 L910.7 957.4 L912.7 957.8 L914.6 958.1 L916.6 958.5 L918.6 958.8 L920.5 959.1 L922.5 959.4 L924.5 959.6 L926.5 959.9 L928.5 960.1 L930.5 960.3 L932.5 960.4 L934.4 960.6 L936.4 960.7 L938.4 960.8 L940.4 960.9 L942.4 960.9 L944.4 960.9 L946.4 960.9 L948.4 960.9 L950.4 960.8 L952.4 960.7 L954.4 960.6 L956.4 960.4 L958.4 960.3 L960.4 960.1 L962.4 959.8 L964.4 959.6 L966.3 959.3 L968.3 959.1 L970.3 958.8 L972.3 958.4 L974.2 958.1 L976.2 957.8 L978.2 957.4 L980.1 957.0 L982.1 956.6 L984.1 956.2 L986.0 955.8 L988.0 955.4 L989.9 954.9 L991.9 954.5 L993.8 954.0 L995.7 953.6 L997.7 953.1 L999.6 952.6 L1001.6 952.2 L1003.5 951.7 L1005.5 951.2 L1007.4 950.7 L1009.3 950.3 L1011.3 949.8 L1013.2 949.3 L1015.2 948.8 L1017.1 948.3 L1019.0 947.9 L1021.0 947.4 L1022.9 947.0 L1024.9 946.5 L1026.8 946.1 L1028.8 945.6 L1030.7 945.2 L1032.7 944.8 L1034.6 944.4 L1036.6 944.0 L1038.6 943.6 L1040.5 943.2 L1042.5 942.9 L1044.5 942.5 L1046.4 942.2 L1048.4 941.9 L1050.4 941.6 L1052.4 941.3 L1054.3 941.0 L1056.3 940.8 L1058.3 940.5 L1060.3 940.3 L1062.3 940.1 L1064.3 939.9 L1066.3 939.7 L1068.3 939.5 L1070.2 939.4 L1072.2 939.2 L1074.2 939.1 L1076.2 939.0 L1078.2 938.9 L1080.2 938.8 L1082.2 938.7 L1084.2 938.7 L1086.2 938.6 L1088.2 938.6 L1090.2 938.6 L1092.2 938.5 L1094.2 938.6 L1096.2 938.6 L1098.2 938.6 L1100.2 938.6 L1102.2 938.7 L1104.2 938.8 L1106.2 938.9 L1108.2 939.0 L1110.2 939.1 L1112.2 939.2 L1114.2 939.3 L1116.2 939.5 L1118.2 939.6 L1120.1 939.8 L1122.1 940.0 L1124.1 940.2 L1126.1 940.4 L1128.1 940.7 L1130.1 940.9 L1132.1 941.2 L1134.0 941.4 L1136.0 941.7 L1138.0 942.0 L1140.0 942.3 L1142.0 942.6 L1143.9 942.9 L1145.9 943.2 L1147.9 943.5 L1149.8 943.9 L1151.8 944.2 L1153.8 944.6 L1155.7 944.9 L1157.7 945.3 L1159.7 945.6 L1161.6 946.0 L1163.6 946.4 L1165.6 946.7 L1167.5 947.1 L1169.5 947.5 L1171.5 947.9 L1173.4 948.2 L1175.4 948.6 L1177.4 949.0 L1179.3 949.3 L1181.3 949.7 L1183.3 950.0 L1185.2 950.4 L1187.2 950.7 L1189.2 951.1 L1191.1 951.4 L1193.1 951.7 L1195.1 952.1 L1197.0 952.4 L1199.0 952.7 L1201.0 953.0 L1203.0 953.3 L1205.0 953.6 L1206.9 953.8 L1208.9 954.1 L1210.9 954.3 L1212.9 954.5 L1214.9 954.8 L1216.9 955.0 L1218.9 955.1 L1220.8 955.3 L1222.8 955.5 L1224.8 955.6 L1226.8 955.7 L1228.8 955.8 L1230.8 955.9 L1232.8 956.0 L1234.8 956.1 L1236.8 956.1 L1238.8 956.1 L1240.8 956.2 L1242.8 956.2 L1244.8 956.2 L1246.8 956.2 L1248.8 956.1 L1250.8 956.1 L1252.8 956.1 L1254.8 956.0 L1256.8 955.9 L1258.8 955.9 L1260.8 955.8 L1262.8 955.7 L1264.8 955.6 L1266.8 955.5 L1268.8 955.4 L1270.8 955.3 L1272.8 955.1 L1274.8 955.0 L1276.7 954.9 L1278.7 954.7 L1280.7 954.6 L1282.7 954.4 L1284.7 954.2 L1286.7 954.1 L1288.7 953.9 L1290.7 953.7 L1292.7 953.6 L1294.7 953.4 L1296.7 953.2 L1298.7 953.0 L1300.6 952.9 L1302.6 952.7 L1304.6 952.5 L1306.6 952.3 L1308.6 952.1 L1310.6 951.9 L1312.6 951.8 L1314.6 951.6 L1316.6 951.4 L1318.6 951.2 L1320.6 951.1 L1322.5 950.9 L1324.5 950.7 L1326.5 950.6 L1328.5 950.4 L1330.5 950.2 L1332.5 950.1 L1334.5 949.9 L1336.5 949.8 L1338.5 949.7 L1340.5 949.5 L1342.5 949.4 L1344.5 949.3 L1346.5 949.2 L1348.5 949.1 L1350.5 949.0 L1352.4 948.9 L1354.4 948.8 L1356.4 948.7 L1358.4 948.7 L1360.4 948.6 L1362.4 948.6 L1364.4 948.5 L1366.4 948.5 L1368.4 948.5 L1370.4 948.4 L1372.4 948.4 L1374.4 948.4 L1376.4 948.4 L1378.4 948.4 L1380.4 948.4 L1382.4 948.4 L1384.4 948.4 L1386.4 948.5 L1388.4 948.5 L1390.4 948.5 L1392.4 948.6 L1394.4 948.6 L1396.4 948.7 L1398.4 948.7 L1400.4 948.8 L1402.4 948.8 L1404.4 948.9 L1406.4 948.9 L1408.4 949.0 L1410.4 949.1 L1412.4 949.1 L1414.4 949.2 L1416.4 949.3 L1418.4 949.4 L1420.4 949.4 L1422.4 949.5 L1424.4 949.6 L1426.4 949.7 L1428.4 949.8 L1430.4 949.8 L1432.4 949.9 L1434.4 950.0 L1436.4 950.1 L1438.3 950.2 L1440.3 950.3 L1442.3 950.4 L1444.3 950.4 L1446.3 950.5 L1448.3 950.6 L1450.3 950.7 L1452.3 950.8 L1454.3 950.9 L1456.3 950.9 L1458.3 951.0 L1460.3 951.1 L1462.3 951.1 L1464.3 951.2 L1466.3 951.3 L1468.3 951.3 L1470.3 951.4 L1472.3 951.5 L1474.3 951.5 L1476.3 951.6 L1478.3 951.6 L1480.3 951.7 L1482.3 951.7 L1484.3 951.8 L1486.3 951.8 L1488.3 951.9 L1490.3 951.9 L1492.3 951.9 L1494.3 952.0 L1496.3 952.0 L1498.3 952.0 L1500.3 952.1 L1502.3 952.1 L1504.3 952.1 L1506.3 952.2 L1508.3 952.2 L1510.3 952.2 L1512.3 952.2 L1514.3 952.2 L1516.3 952.2 L1518.3 952.2 L1520.3 952.3 L1522.3 952.3 L1524.3 952.3 L1526.3 952.3 L1528.3 952.3 L1530.2 952.3 L1532.2 952.3 L1534.2 952.3 L1536.2 952.3 L1538.2 952.2 L1540.2 952.2 L1542.2 952.2 L1544.2 952.2 L1546.2 952.2 L1548.2 952.2 L1550.2 952.2 L1552.2 952.1 L1554.2 952.1 L1556.2 952.1 L1558.2 952.1 L1560.2 952.0 L1562.2 952.0 L1564.2 952.0 L1566.2 951.9 L1568.2 951.9 L1570.2 951.9 L1572.2 951.8 L1574.2 951.8 L1576.2 951.7 L1578.2 951.7 L1580.2 951.6 L1582.2 951.6 L1584.2 951.5 L1586.2 951.5 L1588.2 951.4 L1590.2 951.4 L1592.2 951.3 L1594.2 951.3 L1596.2 951.2 L1598.2 951.2 L1600.2 951.1 L1602.2 951.1 L1604.2 951.0 L1606.2 950.9 L1608.2 950.9 L1610.2 950.8 L1612.2 950.8 L1614.2 950.7 L1616.2 950.6 L1618.2 950.6 L1620.2 950.5 L1622.2 950.5 L1624.2 950.4 L1626.2 950.3 L1628.2 950.3 L1630.2 950.2 L1632.1 950.2 L1634.1 950.1 L1636.1 950.0 L1638.1 950.0 L1640.1 949.9 L1642.1 949.9 L1644.1 949.8 L1646.1 949.8 L1648.1 949.7 L1650.1 949.7 L1652.1 949.6 L1654.1 949.6 L1656.1 949.5 L1658.1 949.5 L1660.1 949.4 L1662.1 949.4 L1664.1 949.3 L1666.1 949.3 L1668.1 949.3 L1670.1 949.2 L1672.1 949.2 L1674.1 949.2 L1676.1 949.1 L1678.1 949.1 L1680.1 949.1 L1682.1 949.1 L1684.1 949.0 L1686.1 949.0 L1688.1 949.0 L1690.1 949.0 L1692.1 949.0 L1694.1 949.0 L1696.1 949.0 L1698.1 949.0 L1700.1 948.9 L1702.1 948.9 L1704.1 948.9 L1706.1 948.9 L1708.1 948.9 L1710.1 948.9 L1712.1 949.0 L1714.1 949.0 L1716.1 949.0 L1718.1 949.0 L1720.1 949.0 L1722.1 949.0 L1724.1 949.0 L1726.1 949.0 L1728.1 949.0 L1730.1 949.0 L1732.1 949.1 L1734.1 949.1 L1736.1 949.1 L1738.1 949.1 L1740.1 949.1 L1742.1 949.1 L1744.1 949.1 L1746.1 949.2 L1748.1 949.2 L1750.0 949.2 L1752.0 949.2 L1754.0 949.2 L1756.0 949.2 L1758.0 949.3 L1760.0 949.3 L1762.0 949.3 L1764.0 949.3 L1766.0 949.3 L1768.0 949.3 L1770.0 949.4 L1772.0 949.4 L1774.0 949.4 L1776.0 949.4 L1778.0 949.4 L1780.0 949.4 L1782.0 949.4 L1784.0 949.4 L1786.0 949.4 L1788.0 949.4 L1790.0 949.4 L1792.0 949.5 L1794.0 949.5 L1796.0 949.5 L1798.0 949.5 L1800.0 949.4 L1802.0 949.4 L1804.0 949.4 L1806.0 949.4 L1808.0 949.4 L1810.0 949.4 L1812.0 949.4 L1814.0 949.4 L1816.0 949.4 L1818.0 949.4 L1820.0 949.4 L1822.0 949.3 L1824.0 949.3 L1826.0 949.3 L1828.0 949.3 L1830.0 949.3 L1832.0 949.2 L1834.0 949.2 L1836.0 949.2 L1838.0 949.2 L1840.0 949.2 L1842.0 949.1 L1844.0 949.1 L1846.0 949.1 L1848.0 949.0 L1850.0 949.0 L1852.0 949.0 L1854.0 949.0 L1856.0 948.9 L1858.0 948.9 L1860.0 948.9 L1862.0 948.8 L1864.0 948.8 L1866.0 948.7 L1868.0 948.7 L1870.0 948.7 L1872.0 948.6 L1874.0 948.6 L1875.9 948.6 L1877.9 948.5 L1879.9 948.5 L1881.9 948.4 L1883.9 948.4 L1885.9 948.3 L1887.9 948.3 L1889.9 948.3 L1891.9 948.2 L1893.9 948.2 L1895.9 948.1 L1897.9 948.1 L1899.9 948.0 L1901.9 948.0 L1903.9 947.9 L1905.9 947.9 L1907.9 947.8 L1909.9 947.8 L1911.9 947.7 L1913.9 947.7 L1915.9 947.6 L1917.9 947.6 L1919.9 947.5 L1921.9 947.5 L1923.9 947.4 L1925.9 947.4 L1927.9 947.3 L1929.9 947.3 L1931.9 947.2 L1933.9 947.2 L1935.9 947.1 L1937.9 947.1 L1939.9 947.0 L1941.9 947.0 L1943.9 946.9 L1945.9 946.9 L1947.9 946.8 L1949.9 946.8 L1951.9 946.7 L1953.9 946.6 L1955.9 946.6 L1957.9 946.5 L1959.9 946.5 L1961.9 946.4 L1963.9 946.4 L1965.9 946.3 L1967.9 946.3 L1969.9 946.2 L1971.8 946.2 L1973.8 946.1 L1975.8 946.1 L1977.8 946.0 L1979.8 945.9 L1981.8 945.9 L1983.8 945.8 L1985.8 945.8 L1987.8 945.7 L1989.8 945.7 L1991.8 945.6 L1993.8 945.6 L1995.8 945.5 L1997.8 945.5 L1999.8 945.4 L2001.8 945.4 L2003.8 945.3 L2005.8 945.3 L2007.8 945.2 L2009.8 945.2 L2011.8 945.1 L2013.8 945.1 L2015.8 945.0 L2017.8 945.0 L2019.8 944.9 L2021.8 944.9 L2023.8 944.8 L2025.8 944.8 L2027.8 944.7 L2029.8 944.7 L2031.8 944.7 L2033.8 944.6 L2035.8 944.6 L2037.8 944.5 L2039.8 944.5 L2041.8 944.4 L2043.8 944.4 L2045.8 944.4 L2047.8 944.3 L2049.8 944.3 L2051.8 944.3 L2053.8 944.2 L2055.8 944.2 L2057.8 944.1 L2059.8 944.1 L2061.8 944.1 L2063.8 944.0 L2065.8 944.0 L2067.8 944.0 L2069.8 943.9 L2071.7 943.9 L2073.7 943.9 L2075.7 943.9 L2077.7 943.8 L2079.7 943.8 L2081.7 943.8 L2083.7 943.8 L2085.7 943.7 L2087.7 943.7 L2089.7 943.7 L2091.7 943.7 L2093.7 943.7 L2095.7 943.6 L2097.7 943.6 L2099.7 943.6 L2101.7 943.6 L2103.7 943.6 L2105.7 943.6 L2107.7 943.6 L2109.7 943.5 L2111.7 943.5 L2113.7 943.5 L2115.7 943.5 L2117.7 943.5 L2119.7 943.5 L2121.7 943.5 L2123.7 943.5 L2125.7 943.5 L2127.7 943.5 L2129.7 943.5 L2131.7 943.5 L2133.7 943.5 L2135.7 943.5 L2137.7 943.5 L2139.7 943.5 L2141.7 943.6 L2143.7 943.6 L2145.7 943.6 L2147.7 943.6 L2149.7 943.6 L2151.7 943.6 L2153.7 943.7 L2155.7 943.7 L2157.7 943.7 L2159.7 943.7 L2161.7 943.7 L2163.7 943.8 L2165.7 943.8 L2167.7 943.8 L2169.7 943.8 L2171.7 943.9 L2173.7 943.9 L2175.7 943.9 L2177.7 944.0 L2179.7 944.0 L2181.7 944.0 L2183.7 944.1 L2185.7 944.1 L2187.7 944.1 L2189.7 944.2 L2191.7 944.2 L2193.7 944.3 L2195.7 944.3 L2197.6 944.3 L2199.6 944.4 L2201.6 944.4 L2203.6 944.5 L2205.6 944.5 L2207.6 944.5 L2209.6 944.6 L2211.6 944.6 L2213.6 944.7 L2215.6 944.7 L2217.6 944.8 L2219.6 944.8 L2221.6 944.9 L2223.6 944.9 L2225.6 945.0 L2227.6 945.0 L2229.6 945.1 L2231.6 945.1 L2233.6 945.2 L2235.6 945.2 L2237.6 945.3 L2239.6 945.3 L2241.6 945.4 L2243.6 945.4 L2245.6 945.5 L2247.6 945.5 L2249.6 945.6 L2251.6 945.6 L2253.6 945.7 L2255.6 945.7 L2257.6 945.8 L2259.6 945.8 L2261.6 945.9 L2263.6 945.9 L2265.6 946.0 L2267.6 946.0 L2269.6 946.1 L2271.6 946.1 L2273.6 946.2 L2275.6 946.2 L2277.6 946.3 L2279.6 946.3 L2281.6 946.4 L2283.6 946.4 L2285.6 946.5 L2287.6 946.5 L2289.6 946.6 L2291.6 946.6 L2293.6 946.7 L2295.5 946.7 L2297.5 946.7 L2299.5 946.8 L2301.5 946.8 L2303.5 946.9 L2305.5 946.9 L2307.5 947.0 L2309.5 947.0 L2311.5 947.1 L2313.5 947.1 L2315.5 947.1 L2317.5 947.2 L2319.5 947.2 L2321.5 947.3 L2323.5 947.3 L2325.5 947.3 L2327.5 947.4 L2329.5 947.4 L2331.5 947.4 L2333.5 947.5 L2335.5 947.5 L2337.5 947.5 L2339.5 947.6 L2341.5 947.6 L2343.5 947.6 L2345.5 947.7 L2347.5 947.7 L2349.5 947.7"/>
<path stroke="#1469de" d="M195.5 1336.3 L197.4 1335.6 L199.2 1334.8 L201.1 1334.1 L202.9 1333.3 L204.8 1332.6 L206.6 1331.8 L208.5 1331.1 L210.3 1330.3 L212.2 1329.6 L214.1 1328.9 L215.9 1328.1 L217.8 1327.4 L219.6 1326.6 L221.5 1325.9 L223.4 1325.2 L225.2 1324.5 L227.1 1323.7 L228.9 1323.0 L230.8 1322.3 L232.7 1321.6 L234.6 1320.9 L236.4 1320.2 L238.3 1319.5 L240.2 1318.8 L242.1 1318.1 L243.9 1317.5 L245.8 1316.8 L247.7 1316.1 L249.6 1315.5 L251.5 1314.8 L253.4 1314.2 L255.3 1313.5 L257.2 1312.9 L259.1 1312.3 L261.0 1311.7 L262.9 1311.1 L264.8 1310.5 L266.7 1309.9 L268.6 1309.3 L270.5 1308.7 L272.4 1308.1 L274.4 1307.6 L276.3 1307.0 L278.2 1306.5 L280.1 1306.0 L282.1 1305.5 L284.0 1305.0 L285.9 1304.5 L287.9 1304.0 L289.8 1303.5 L291.8 1303.1 L293.7 1302.6 L295.7 1302.2 L297.6 1301.7 L299.6 1301.3 L301.5 1300.9 L303.5 1300.6 L305.5 1300.2 L307.4 1299.8 L309.4 1299.5 L311.4 1299.2 L313.3 1298.8 L315.3 1298.5 L317.3 1298.3 L319.3 1298.0 L321.3 1297.7 L323.2 1297.5 L325.2 1297.3 L327.2 1297.0 L329.2 1296.8 L331.2 1296.6 L333.2 1296.5 L335.2 1296.3 L337.2 1296.1 L339.2 1296.0 L341.2 1295.9 L343.2 1295.7 L345.1 1295.6 L347.1 1295.5 L349.1 1295.4 L351.1 1295.3 L353.1 1295.2 L355.1 1295.1 L357.1 1295.1 L359.1 1295.0 L361.1 1294.9 L363.1 1294.9 L365.1 1294.8 L367.1 1294.8 L369.1 1294.7 L371.1 1294.7 L373.1 1294.7 L375.1 1294.6 L377.1 1294.6 L379.1 1294.6 L381.1 1294.6 L383.1 1294.6 L385.1 1294.5 L387.1 1294.5 L389.1 1294.5 L391.1 1294.5 L393.1 1294.5 L395.1 1294.5 L397.1 1294.5 L399.1 1294.5 L401.1 1294.4 L403.1 1294.4 L405.1 1294.4 L407.1 1294.4 L409.1 1294.4 L411.1 1294.3 L413.1 1294.3 L415.1 1294.3 L417.1 1294.2 L419.1 1294.2 L421.1 1294.1 L423.1 1294.1 L425.1 1294.0 L427.1 1294.0 L429.1 1293.9 L431.1 1293.8 L433.1 1293.7 L435.1 1293.6 L437.1 1293.5 L439.1 1293.4 L441.1 1293.3 L443.1 1293.2 L445.1 1293.1 L447.1 1293.1 L449.1 1293.0 L451.1 1293.0 L453.1 1293.0 L455.0 1293.1 L457.0 1293.2 L459.0 1293.4 L461.0 1293.6 L463.0 1293.8 L465.0 1294.1 L467.0 1294.4 L469.0 1294.6 L470.9 1294.9 L472.9 1295.2 L474.9 1295.4 L476.9 1295.6 L478.9 1295.8 L480.9 1296.0 L482.9 1296.1 L484.9 1296.2 L486.9 1296.3 L488.9 1296.4 L490.9 1296.5 L492.8 1296.6 L494.8 1296.6 L496.8 1296.7 L498.8 1296.7 L500.8 1296.8 L502.8 1296.8 L504.8 1296.9 L506.8 1296.9 L508.8 1296.9 L510.8 1296.9 L512.8 1296.9 L514.8 1296.9 L516.8 1296.9 L518.8 1296.8 L520.8 1296.7 L522.8 1296.6 L524.8 1296.5 L526.8 1296.3 L528.8 1296.1 L530.8 1295.9 L532.8 1295.6 L534.7 1295.4 L536.7 1295.0 L538.7 1294.7 L540.6 1294.2 L542.6 1293.8 L544.5 1293.3 L546.4 1292.7 L548.4 1292.1 L550.2 1291.5 L552.1 1290.8 L554.0 1290.1 L555.9 1289.4 L557.7 1288.6 L559.6 1287.9 L561.4 1287.1 L563.2 1286.3 L565.1 1285.5 L566.9 1284.7 L568.7 1283.9 L570.5 1283.1 L572.4 1282.3 L574.2 1281.5 L576.1 1280.8 L577.9 1280.0 L579.8 1279.3 L581.7 1278.6 L583.5 1277.8 L585.4 1277.1 L587.3 1276.4 L589.1 1275.7 L591.0 1275.0 L592.9 1274.3 L594.7 1273.5 L596.6 1272.8 L598.5 1272.1 L600.3 1271.4 L602.2 1270.6 L604.0 1269.8 L605.9 1269.1 L607.7 1268.3 L609.5 1267.5 L611.3 1266.7 L613.2 1265.8 L615.0 1265.0 L616.8 1264.1 L618.5 1263.2 L620.3 1262.3 L622.1 1261.3 L623.8 1260.3 L625.5 1259.3 L627.2 1258.3 L628.9 1257.2 L630.6 1256.1 L632.2 1254.9 L633.8 1253.8 L635.4 1252.5 L637.0 1251.3 L638.5 1250.0 L640.0 1248.7 L641.5 1247.4 L643.0 1246.0 L644.4 1244.6 L645.8 1243.2 L647.3 1241.8 L648.6 1240.4 L650.0 1238.9 L651.4 1237.5 L652.8 1236.0 L654.2 1234.6 L655.5 1233.1 L656.9 1231.7 L658.3 1230.2 L659.7 1228.8 L661.1 1227.4 L662.5 1226.0 L664.0 1224.6 L665.5 1223.3 L667.0 1222.0 L668.5 1220.7 L670.1 1219.4 L671.7 1218.2 L673.3 1217.1 L675.0 1216.0 L676.7 1214.9 L678.4 1214.0 L680.2 1213.1 L682.0 1212.2 L683.9 1211.4 L685.7 1210.7 L687.6 1210.1 L689.5 1209.5 L691.5 1208.9 L693.4 1208.4 L695.3 1208.0 L697.3 1207.6 L699.3 1207.2 L701.2 1206.9 L703.2 1206.6 L705.2 1206.3 L707.2 1206.1 L709.2 1205.9 L711.2 1205.7 L713.1 1205.5 L715.1 1205.3 L717.1 1205.2 L719.1 1205.1 L721.1 1204.9 L723.1 1204.8 L725.1 1204.7 L727.1 1204.6 L729.1 1204.5 L731.1 1204.4 L733.1 1204.3 L735.1 1204.2 L737.1 1204.0 L739.1 1203.9 L741.1 1203.7 L743.1 1203.5 L745.1 1203.4 L747.0 1203.2 L749.0 1202.9 L751.0 1202.7 L753.0 1202.5 L755.0 1202.3 L757.0 1202.1 L759.0 1201.9 L761.0 1201.7 L763.0 1201.5 L764.9 1201.3 L766.9 1201.2 L768.9 1201.1 L770.9 1201.0 L772.9 1201.0 L774.9 1201.0 L776.9 1201.1 L778.9 1201.2 L780.9 1201.4 L782.9 1201.6 L784.9 1201.9 L786.9 1202.2 L788.8 1202.6 L790.7 1203.1 L792.7 1203.7 L794.6 1204.3 L796.5 1204.9 L798.4 1205.6 L800.2 1206.3 L802.1 1207.0 L803.9 1207.8 L805.7 1208.6 L807.6 1209.5 L809.4 1210.3 L811.2 1211.2 L813.0 1212.1 L814.7 1213.0 L816.5 1213.9 L818.3 1214.8 L820.0 1215.8 L821.8 1216.7 L823.5 1217.7 L825.3 1218.7 L827.0 1219.7 L828.8 1220.7 L830.5 1221.7 L832.2 1222.7 L834.0 1223.7 L835.7 1224.7 L837.4 1225.7 L839.1 1226.7 L840.9 1227.7 L842.6 1228.7 L844.3 1229.7 L846.1 1230.7 L847.8 1231.7 L849.5 1232.7 L851.3 1233.6 L853.0 1234.6 L854.8 1235.5 L856.6 1236.5 L858.3 1237.4 L860.1 1238.3 L861.9 1239.2 L863.7 1240.1 L865.5 1240.9 L867.3 1241.8 L869.2 1242.6 L871.0 1243.4 L872.8 1244.1 L874.7 1244.9 L876.5 1245.6 L878.4 1246.3 L880.3 1247.0 L882.2 1247.7 L884.1 1248.3 L886.0 1248.9 L887.9 1249.5 L889.8 1250.1 L891.7 1250.6 L893.7 1251.2 L895.6 1251.6 L897.5 1252.1 L899.5 1252.5 L901.5 1252.9 L903.4 1253.3 L905.4 1253.7 L907.4 1254.0 L909.3 1254.3 L911.3 1254.5 L913.3 1254.8 L915.3 1255.0 L917.3 1255.1 L919.3 1255.3 L921.3 1255.4 L923.3 1255.5 L925.3 1255.6 L927.3 1255.6 L929.3 1255.6 L931.3 1255.6 L933.3 1255.5 L935.3 1255.5 L937.3 1255.4 L939.3 1255.3 L941.2 1255.1 L943.2 1254.9 L945.2 1254.7 L947.2 1254.5 L949.2 1254.3 L951.2 1254.0 L953.2 1253.7 L955.1 1253.4 L957.1 1253.0 L959.1 1252.6 L961.0 1252.2 L963.0 1251.8 L964.9 1251.4 L966.9 1250.9 L968.8 1250.4 L970.7 1249.9 L972.7 1249.3 L974.6 1248.8 L976.5 1248.2 L978.4 1247.6 L980.3 1247.0 L982.2 1246.3 L984.1 1245.6 L985.9 1244.9 L987.8 1244.2 L989.7 1243.5 L991.5 1242.7 L993.3 1241.9 L995.2 1241.1 L997.0 1240.3 L998.8 1239.5 L1000.6 1238.6 L1002.4 1237.7 L1004.2 1236.8 L1006.0 1235.9 L1007.7 1234.9 L1009.5 1234.0 L1011.2 1233.0 L1012.9 1232.0 L1014.6 1230.9 L1016.3 1229.9 L1018.0 1228.8 L1019.7 1227.7 L1021.4 1226.6 L1023.0 1225.5 L1024.7 1224.4 L1026.3 1223.2 L1027.9 1222.1 L1029.6 1220.9 L1031.2 1219.7 L1032.7 1218.5 L1034.3 1217.3 L1035.9 1216.0 L1037.4 1214.8 L1039.0 1213.5 L1040.5 1212.2 L1042.1 1210.9 L1043.6 1209.6 L1045.1 1208.3 L1046.6 1207.0 L1048.1 1205.7 L1049.6 1204.3 L1051.0 1203.0 L1052.5 1201.6 L1054.0 1200.3 L1055.4 1198.9 L1056.9 1197.5 L1058.3 1196.1 L1059.7 1194.7 L1061.2 1193.3 L1062.6 1191.9 L1064.0 1190.5 L1065.4 1189.1 L1066.8 1187.6 L1068.2 1186.2 L1069.6 1184.8 L1071.0 1183.3 L1072.3 1181.9 L1073.7 1180.4 L1075.1 1179.0 L1076.5 1177.5 L1077.8 1176.0 L1079.2 1174.6 L1080.5 1173.1 L1081.9 1171.7 L1083.2 1170.2 L1084.6 1168.7 L1086.0 1167.2 L1087.3 1165.8 L1088.7 1164.3 L1090.0 1162.8 L1091.3 1161.3 L1092.7 1159.9 L1094.0 1158.4 L1095.4 1156.9 L1096.7 1155.4 L1098.1 1154.0 L1099.4 1152.5 L1100.8 1151.0 L1102.2 1149.6 L1103.7 1148.2 L1105.1 1146.9 L1106.7 1145.6 L1108.3 1144.4 L1109.9 1143.3 L1111.6 1142.3 L1113.4 1141.4 L1115.3 1140.6 L1117.2 1139.9 L1119.1 1139.4 L1121.0 1138.9 L1123.0 1138.6 L1125.0 1138.3 L1127.0 1138.1 L1129.0 1138.0 L1131.0 1138.0 L1133.0 1138.0 L1135.0 1138.1 L1136.9 1138.3 L1138.9 1138.5 L1140.9 1138.8 L1142.9 1139.2 L1144.8 1139.6 L1146.8 1140.1 L1148.7 1140.7 L1150.6 1141.3 L1152.5 1141.9 L1154.4 1142.6 L1156.2 1143.3 L1158.1 1144.1 L1159.9 1144.9 L1161.7 1145.7 L1163.5 1146.6 L1165.3 1147.5 L1167.1 1148.4 L1168.9 1149.3 L1170.7 1150.2 L1172.4 1151.1 L1174.2 1152.0 L1176.0 1152.9 L1177.8 1153.8 L1179.6 1154.7 L1181.4 1155.6 L1183.2 1156.4 L1185.0 1157.3 L1186.8 1158.0 L1188.7 1158.8 L1190.6 1159.5 L1192.5 1160.2 L1194.4 1160.8 L1196.3 1161.4 L1198.2 1161.9 L1200.1 1162.4 L1202.1 1162.8 L1204.0 1163.2 L1206.0 1163.6 L1208.0 1164.0 L1209.9 1164.3 L1211.9 1164.6 L1213.9 1164.9 L1215.9 1165.1 L1217.9 1165.4 L1219.8 1165.6 L1221.8 1165.8 L1223.8 1166.1 L1225.8 1166.3 L1227.8 1166.5 L1229.8 1166.7 L1231.8 1167.0 L1233.8 1167.2 L1235.7 1167.5 L1237.7 1167.7 L1239.7 1168.0 L1241.7 1168.3 L1243.6 1168.6 L1245.6 1169.0 L1247.6 1169.4 L1249.5 1169.8 L1251.5 1170.2 L1253.4 1170.7 L1255.3 1171.2 L1257.3 1171.8 L1259.2 1172.4 L1261.0 1173.1 L1262.9 1173.8 L1264.8 1174.6 L1266.6 1175.4 L1268.4 1176.2 L1270.2 1177.1 L1272.0 1178.0 L1273.8 1178.9 L1275.5 1179.9 L1277.3 1180.8 L1279.0 1181.8 L1280.7 1182.8 L1282.5 1183.8 L1284.2 1184.8 L1285.9 1185.8 L1287.7 1186.8 L1289.4 1187.8 L1291.1 1188.8 L1292.9 1189.8 L1294.6 1190.8 L1296.3 1191.8 L1298.1 1192.8 L1299.8 1193.8 L1301.6 1194.7 L1303.3 1195.7 L1305.1 1196.6 L1306.8 1197.6 L1308.6 1198.6 L1310.3 1199.5 L1312.1 1200.4 L1313.9 1201.4 L1315.6 1202.3 L1317.4 1203.2 L1319.2 1204.2 L1321.0 1205.1 L1322.8 1206.0 L1324.5 1206.9 L1326.3 1207.8 L1328.1 1208.7 L1329.9 1209.6 L1331.7 1210.4 L1333.5 1211.3 L1335.3 1212.2 L1337.1 1213.1 L1338.9 1213.9 L1340.7 1214.8 L1342.5 1215.6 L1344.3 1216.5 L1346.1 1217.3 L1348.0 1218.1 L1349.8 1219.0 L1351.6 1219.8 L1353.4 1220.6 L1355.3 1221.4 L1357.1 1222.2 L1358.9 1223.0 L1360.8 1223.8 L1362.6 1224.6 L1364.4 1225.3 L1366.3 1226.1 L1368.1 1226.9 L1370.0 1227.6 L1371.8 1228.4 L1373.7 1229.1 L1375.6 1229.9 L1377.4 1230.6 L1379.3 1231.3 L1381.1 1232.0 L1383.0 1232.7 L1384.9 1233.4 L1386.8 1234.1 L1388.6 1234.8 L1390.5 1235.5 L1392.4 1236.2 L1394.3 1236.9 L1396.2 1237.5 L1398.1 1238.2 L1399.9 1238.8 L1401.8 1239.5 L1403.7 1240.1 L1405.6 1240.7 L1407.5 1241.3 L1409.4 1241.9 L1411.3 1242.5 L1413.3 1243.1 L1415.2 1243.7 L1417.1 1244.3 L1419.0 1244.9 L1420.9 1245.4 L1422.8 1246.0 L1424.8 1246.6 L1426.7 1247.1 L1428.6 1247.6 L1430.5 1248.1 L1432.5 1248.7 L1434.4 1249.2 L1436.3 1249.7 L1438.3 1250.2 L1440.2 1250.6 L1442.2 1251.1 L1444.1 1251.6 L1446.0 1252.0 L1448.0 1252.5 L1449.9 1252.9 L1451.9 1253.4 L1453.8 1253.8 L1455.8 1254.2 L1457.8 1254.6 L1459.7 1255.0 L1461.7 1255.4 L1463.6 1255.8 L1465.6 1256.1 L1467.6 1256.5 L1469.5 1256.9 L1471.5 1257.2 L1473.5 1257.6 L1475.5 1257.9 L1477.4 1258.2 L1479.4 1258.5 L1481.4 1258.8 L1483.3 1259.1 L1485.3 1259.4 L1487.3 1259.7 L1489.3 1260.0 L1491.3 1260.3 L1493.2 1260.5 L1495.2 1260.8 L1497.2 1261.1 L1499.2 1261.3 L1501.2 1261.5 L1503.2 1261.8 L1505.1 1262.0 L1507.1 1262.2 L1509.1 1262.4 L1511.1 1262.6 L1513.1 1262.8 L1515.1 1263.0 L1517.1 1263.2 L1519.1 1263.4 L1521.1 1263.6 L1523.1 1263.8 L1525.0 1263.9 L1527.0 1264.1 L1529.0 1264.2 L1531.0 1264.4 L1533.0 1264.5 L1535.0 1264.7 L1537.0 1264.8 L1539.0 1264.9 L1541.0 1265.1 L1543.0 1265.2 L1545.0 1265.3 L1547.0 1265.4 L1549.0 1265.5 L1551.0 1265.6 L1553.0 1265.7 L1555.0 1265.8 L1557.0 1265.9 L1559.0 1266.0 L1561.0 1266.0 L1563.0 1266.1 L1565.0 1266.2 L1567.0 1266.3 L1569.0 1266.3 L1571.0 1266.4 L1573.0 1266.4 L1575.0 1266.5 L1576.9 1266.6 L1578.9 1266.6 L1580.9 1266.6 L1582.9 1266.7 L1584.9 1266.7 L1586.9 1266.8 L1588.9 1266.8 L1590.9 1266.8 L1592.9 1266.9 L1594.9 1266.9 L1596.9 1266.9 L1598.9 1266.9 L1600.9 1266.9 L1602.9 1267.0 L1604.9 1267.0 L1606.9 1267.0 L1608.9 1267.0 L1610.9 1267.0 L1612.9 1267.0 L1614.9 1267.0 L1616.9 1267.0 L1618.9 1267.0 L1620.9 1267.0 L1622.9 1267.0 L1624.9 1267.0 L1626.9 1267.0 L1628.9 1267.0 L1630.9 1267.0 L1632.9 1267.0 L1634.9 1267.0 L1636.9 1267.0 L1638.9 1266.9 L1640.9 1266.9 L1642.9 1266.9 L1644.9 1266.9 L1646.9 1266.9 L1648.9 1266.9 L1650.9 1266.9 L1652.9 1266.8 L1654.9 1266.8 L1656.9 1266.8 L1658.9 1266.8 L1660.9 1266.8 L1662.9 1266.8 L1664.9 1266.7 L1666.9 1266.7 L1668.9 1266.7 L1670.9 1266.7 L1672.9 1266.6 L1674.9 1266.6 L1676.9 1266.6 L1678.9 1266.6 L1680.9 1266.6 L1682.9 1266.5 L1684.9 1266.5 L1686.9 1266.5 L1688.9 1266.5 L1690.9 1266.4 L1692.9 1266.4 L1694.9 1266.4 L1696.9 1266.4 L1698.9 1266.3 L1700.9 1266.3 L1702.9 1266.3 L1704.9 1266.3 L1706.9 1266.2 L1708.9 1266.2 L1710.9 1266.2 L1712.9 1266.2 L1714.9 1266.1 L1716.9 1266.1 L1718.9 1266.1 L1720.9 1266.1 L1722.9 1266.0 L1724.9 1266.0 L1726.9 1266.0 L1728.9 1266.0 L1730.9 1265.9 L1732.9 1265.9 L1734.9 1265.9 L1736.9 1265.9 L1738.9 1265.9 L1740.9 1265.8 L1742.9 1265.8 L1744.9 1265.8 L1746.9 1265.8 L1748.9 1265.8 L1750.9 1265.8 L1752.9 1265.7 L1754.9 1265.7 L1756.9 1265.7 L1758.9 1265.7 L1760.9 1265.7 L1762.9 1265.7 L1764.9 1265.7 L1766.8 1265.6 L1768.8 1265.6 L1770.8 1265.6 L1772.8 1265.6 L1774.8 1265.6 L1776.8 1265.6 L1778.8 1265.6 L1780.8 1265.6 L1782.8 1265.6 L1784.8 1265.6 L1786.8 1265.6 L1788.8 1265.6 L1790.8 1265.6 L1792.8 1265.6 L1794.8 1265.6 L1796.8 1265.6 L1798.8 1265.6 L1800.8 1265.6 L1802.8 1265.6 L1804.8 1265.7 L1806.8 1265.7 L1808.8 1265.7 L1810.8 1265.7 L1812.8 1265.7 L1814.8 1265.7 L1816.8 1265.8 L1818.8 1265.8 L1820.8 1265.8 L1822.8 1265.8 L1824.8 1265.9 L1826.8 1265.9 L1828.8 1265.9 L1830.8 1266.0 L1832.8 1266.0 L1834.8 1266.0 L1836.8 1266.1 L1838.8 1266.1 L1840.8 1266.2 L1842.8 1266.2 L1844.8 1266.2 L1846.8 1266.3 L1848.8 1266.3 L1850.8 1266.4 L1852.8 1266.5 L1854.8 1266.5 L1856.8 1266.6 L1858.8 1266.6 L1860.8 1266.7 L1862.8 1266.8 L1864.8 1266.8 L1866.8 1266.9 L1868.8 1267.0 L1870.8 1267.0 L1872.8 1267.1 L1874.8 1267.2 L1876.8 1267.3 L1878.8 1267.4 L1880.8 1267.5 L1882.8 1267.6 L1884.8 1267.6 L1886.8 1267.7 L1888.8 1267.8 L1890.8 1267.9 L1892.8 1268.0 L1894.7 1268.1 L1896.7 1268.2 L1898.7 1268.3 L1900.7 1268.4 L1902.7 1268.5 L1904.7 1268.7 L1906.7 1268.8 L1908.7 1268.9 L1910.7 1269.0 L1912.7 1269.1 L1914.7 1269.2 L1916.7 1269.4 L1918.7 1269.5 L1920.7 1269.6 L1922.7 1269.7 L1924.7 1269.8 L1926.7 1270.0 L1928.7 1270.1 L1930.7 1270.2 L1932.7 1270.3 L1934.7 1270.5 L1936.7 1270.6 L1938.6 1270.7 L1940.6 1270.9 L1942.6 1271.0 L1944.6 1271.1 L1946.6 1271.3 L1948.6 1271.4 L1950.6 1271.5 L1952.6 1271.7 L1954.6 1271.8 L1956.6 1272.0 L1958.6 1272.1 L1960.6 1272.2 L1962.6 1272.4 L1964.6 1272.5 L1966.6 1272.7 L1968.6 1272.8 L1970.6 1272.9 L1972.6 1273.1 L1974.5 1273.2 L1976.5 1273.4 L1978.5 1273.5 L1980.5 1273.7 L1982.5 1273.8 L1984.5 1273.9 L1986.5 1274.1 L1988.5 1274.2 L1990.5 1274.4 L1992.5 1274.5 L1994.5 1274.6 L1996.5 1274.8 L1998.5 1274.9 L2000.5 1275.1 L2002.5 1275.2 L2004.5 1275.3 L2006.5 1275.5 L2008.4 1275.6 L2010.4 1275.8 L2012.4 1275.9 L2014.4 1276.0 L2016.4 1276.2 L2018.4 1276.3 L2020.4 1276.4 L2022.4 1276.6 L2024.4 1276.7 L2026.4 1276.8 L2028.4 1277.0 L2030.4 1277.1 L2032.4 1277.2 L2034.4 1277.4 L2036.4 1277.5 L2038.4 1277.6 L2040.4 1277.7 L2042.4 1277.9 L2044.4 1278.0 L2046.3 1278.1 L2048.3 1278.2 L2050.3 1278.3 L2052.3 1278.5 L2054.3 1278.6 L2056.3 1278.7 L2058.3 1278.8 L2060.3 1278.9 L2062.3 1279.0 L2064.3 1279.1 L2066.3 1279.2 L2068.3 1279.3 L2070.3 1279.4 L2072.3 1279.5 L2074.3 1279.6 L2076.3 1279.7 L2078.3 1279.8 L2080.3 1279.9 L2082.3 1280.0 L2084.3 1280.1 L2086.3 1280.2 L2088.3 1280.3 L2090.3 1280.3 L2092.3 1280.4 L2094.3 1280.5 L2096.3 1280.6 L2098.3 1280.6 L2100.3 1280.7 L2102.3 1280.8 L2104.3 1280.8 L2106.3 1280.9 L2108.2 1281.0 L2110.2 1281.0 L2112.2 1281.1 L2114.2 1281.1 L2116.2 1281.2 L2118.2 1281.2 L2120.2 1281.2 L2122.2 1281.3 L2124.2 1281.3 L2126.2 1281.4 L2128.2 1281.4 L2130.2 1281.4 L2132.2 1281.4 L2134.2 1281.5 L2136.2 1281.5 L2138.2 1281.5 L2140.2 1281.5 L2142.2 1281.5 L2144.2 1281.5 L2146.2 1281.5 L2148.2 1281.5 L2150.2 1281.5 L2152.2 1281.5 L2154.2 1281.5 L2156.2 1281.5 L2158.2 1281.5 L2160.2 1281.4 L2162.2 1281.4 L2164.2 1281.4 L2166.2 1281.3 L2168.2 1281.3 L2170.2 1281.3 L2172.2 1281.2 L2174.2 1281.2 L2176.2 1281.1 L2178.2 1281.1 L2180.2 1281.0 L2182.2 1280.9 L2184.2 1280.9 L2186.2 1280.8 L2188.2 1280.7 L2190.2 1280.6 L2192.2 1280.6 L2194.2 1280.5 L2196.2 1280.4 L2198.2 1280.3 L2200.2 1280.2 L2202.2 1280.1 L2204.2 1280.0 L2206.2 1279.9 L2208.2 1279.8 L2210.2 1279.6 L2212.2 1279.5 L2214.1 1279.4 L2216.1 1279.2 L2218.1 1279.1 L2220.1 1279.0 L2222.1 1278.8 L2224.1 1278.7 L2226.1 1278.5 L2228.1 1278.3 L2230.1 1278.2 L2232.1 1278.0 L2234.1 1277.8 L2236.1 1277.7 L2238.1 1277.5 L2240.1 1277.3 L2242.0 1277.1 L2244.0 1276.9 L2246.0 1276.7 L2248.0 1276.5 L2250.0 1276.3 L2252.0 1276.0 L2254.0 1275.8 L2256.0 1275.6 L2257.9 1275.4 L2259.9 1275.1 L2261.9 1274.9 L2263.9 1274.6 L2265.9 1274.4 L2267.9 1274.1 L2269.8 1273.9 L2271.8 1273.6 L2273.8 1273.4 L2275.8 1273.1 L2277.8 1272.9 L2279.8 1272.6 L2281.7 1272.4 L2283.7 1272.1 L2285.7 1271.9 L2287.7 1271.6 L2289.7 1271.4 L2291.7 1271.2 L2293.7 1270.9 L2295.6 1270.7 L2297.6 1270.5 L2299.6 1270.3 L2301.6 1270.1 L2303.6 1269.9 L2305.6 1269.7 L2307.6 1269.5 L2309.6 1269.3 L2311.6 1269.2 L2313.5 1269.0 L2315.5 1268.9 L2317.5 1268.8 L2319.5 1268.6 L2321.5 1268.5 L2323.5 1268.4 L2325.5 1268.4 L2327.5 1268.3 L2329.5 1268.3 L2331.5 1268.2 L2333.5 1268.2 L2335.5 1268.2 L2337.5 1268.2 L2339.5 1268.2 L2341.5 1268.3 L2343.5 1268.4 L2345.5 1268.5 L2347.5 1268.6 L2349.5 1268.7"/>
<path stroke="#2eab68" d="M195.6 1750.9 L197.2 1749.7 L198.9 1748.6 L200.6 1747.5 L202.2 1746.4 L203.9 1745.4 L205.6 1744.3 L207.4 1743.3 L209.1 1742.3 L210.9 1741.4 L212.6 1740.5 L214.4 1739.5 L216.2 1738.7 L218.0 1737.8 L219.8 1736.9 L221.6 1736.1 L223.5 1735.3 L225.3 1734.5 L227.1 1733.7 L229.0 1732.9 L230.8 1732.1 L232.7 1731.4 L234.5 1730.6 L236.4 1729.8 L238.2 1729.1 L240.1 1728.4 L241.9 1727.6 L243.8 1726.9 L245.6 1726.1 L247.5 1725.4 L249.3 1724.6 L251.2 1723.8 L253.0 1723.1 L254.9 1722.3 L256.7 1721.5 L258.6 1720.7 L260.4 1719.9 L262.2 1719.1 L264.0 1718.2 L265.8 1717.4 L267.6 1716.5 L269.4 1715.6 L271.2 1714.7 L273.0 1713.7 L274.7 1712.8 L276.5 1711.9 L278.2 1710.9 L280.0 1709.9 L281.7 1709.0 L283.5 1708.0 L285.2 1707.0 L287.0 1706.0 L288.7 1705.1 L290.5 1704.1 L292.2 1703.1 L294.0 1702.2 L295.7 1701.2 L297.5 1700.2 L299.2 1699.3 L301.0 1698.4 L302.8 1697.4 L304.6 1696.5 L306.4 1695.6 L308.2 1694.8 L310.0 1693.9 L311.8 1693.1 L313.6 1692.3 L315.4 1691.5 L317.3 1690.7 L319.2 1690.0 L321.0 1689.3 L322.9 1688.6 L324.8 1688.0 L326.7 1687.4 L328.6 1686.8 L330.6 1686.3 L332.5 1685.8 L334.4 1685.3 L336.4 1684.8 L338.3 1684.4 L340.3 1684.0 L342.3 1683.7 L344.2 1683.3 L346.2 1683.0 L348.2 1682.8 L350.2 1682.5 L352.2 1682.3 L354.2 1682.1 L356.2 1681.9 L358.1 1681.8 L360.1 1681.7 L362.1 1681.6 L364.1 1681.5 L366.1 1681.5 L368.1 1681.5 L370.1 1681.5 L372.1 1681.5 L374.1 1681.6 L376.1 1681.7 L378.1 1681.8 L380.1 1681.9 L382.1 1682.0 L384.1 1682.2 L386.1 1682.3 L388.1 1682.5 L390.1 1682.6 L392.1 1682.8 L394.1 1682.9 L396.1 1682.9 L398.1 1683.0 L400.1 1683.0 L402.1 1682.9 L404.1 1682.8 L406.1 1682.6 L408.1 1682.4 L410.0 1682.0 L412.0 1681.6 L413.9 1681.1 L415.8 1680.5 L417.7 1679.7 L419.5 1678.9 L421.3 1678.1 L423.1 1677.2 L424.9 1676.2 L426.6 1675.3 L428.4 1674.3 L430.2 1673.4 L432.0 1672.5 L433.8 1671.7 L435.6 1671.0 L437.5 1670.3 L439.5 1669.8 L441.4 1669.4 L443.4 1669.1 L445.4 1668.9 L447.4 1668.9 L449.4 1668.9 L451.4 1668.9 L453.4 1668.9 L455.4 1668.9 L457.4 1668.9 L459.4 1668.8 L461.4 1668.6 L463.3 1668.3 L465.3 1667.9 L467.3 1667.4 L469.2 1667.0 L471.2 1666.6 L473.1 1666.2 L475.1 1666.0 L477.1 1665.8 L479.1 1665.9 L481.1 1666.1 L483.0 1666.5 L485.0 1667.0 L486.9 1667.6 L488.8 1668.3 L490.7 1668.9 L492.6 1669.5 L494.5 1670.1 L496.4 1670.7 L498.3 1671.3 L500.2 1671.8 L502.2 1672.3 L504.1 1672.8 L506.1 1673.3 L508.0 1673.7 L510.0 1674.2 L511.9 1674.6 L513.9 1675.0 L515.8 1675.3 L517.8 1675.7 L519.8 1676.0 L521.8 1676.4 L523.7 1676.7 L525.7 1676.9 L527.7 1677.2 L529.7 1677.5 L531.7 1677.7 L533.7 1677.9 L535.6 1678.1 L537.6 1678.3 L539.6 1678.5 L541.6 1678.7 L543.6 1678.9 L545.6 1679.0 L547.6 1679.2 L549.6 1679.3 L551.6 1679.4 L553.6 1679.5 L555.6 1679.6 L557.6 1679.7 L559.6 1679.8 L561.6 1679.9 L563.6 1680.0 L565.6 1680.1 L567.6 1680.1 L569.6 1680.2 L571.6 1680.2 L573.6 1680.2 L575.6 1680.3 L577.6 1680.3 L579.6 1680.3 L581.6 1680.3 L583.6 1680.4 L585.6 1680.4 L587.6 1680.4 L589.6 1680.4 L591.6 1680.4 L593.6 1680.3 L595.6 1680.3 L597.6 1680.3 L599.6 1680.3 L601.6 1680.3 L603.6 1680.3 L605.6 1680.2 L607.6 1680.2 L609.6 1680.2 L611.6 1680.1 L613.6 1680.1 L615.6 1680.0 L617.6 1680.0 L619.6 1679.9 L621.6 1679.8 L623.5 1679.7 L625.5 1679.6 L627.5 1679.5 L629.5 1679.3 L631.5 1679.1 L633.5 1678.9 L635.5 1678.7 L637.5 1678.5 L639.5 1678.2 L641.4 1677.9 L643.4 1677.6 L645.4 1677.2 L647.4 1676.9 L649.3 1676.5 L651.3 1676.0 L653.2 1675.6 L655.1 1675.1 L657.1 1674.5 L659.0 1674.0 L660.9 1673.4 L662.8 1672.7 L664.7 1672.1 L666.6 1671.4 L668.4 1670.7 L670.3 1669.9 L672.1 1669.1 L673.9 1668.2 L675.7 1667.4 L677.5 1666.5 L679.2 1665.5 L681.0 1664.5 L682.7 1663.5 L684.4 1662.4 L686.0 1661.3 L687.7 1660.1 L689.2 1658.9 L690.8 1657.6 L692.3 1656.3 L693.8 1655.0 L695.3 1653.6 L696.7 1652.2 L698.1 1650.8 L699.5 1649.4 L700.8 1647.9 L702.1 1646.4 L703.4 1644.8 L704.7 1643.3 L705.9 1641.7 L707.1 1640.1 L708.3 1638.5 L709.5 1636.9 L710.7 1635.3 L711.8 1633.6 L713.0 1632.0 L714.1 1630.3 L715.2 1628.7 L716.3 1627.0 L717.4 1625.3 L718.5 1623.7 L719.6 1622.0 L720.6 1620.3 L721.7 1618.6 L722.8 1616.9 L723.8 1615.2 L724.9 1613.5 L725.9 1611.8 L727.0 1610.1 L728.0 1608.4 L729.0 1606.7 L730.1 1605.0 L731.1 1603.2 L732.1 1601.5 L733.1 1599.8 L734.1 1598.0 L735.1 1596.3 L736.0 1594.6 L737.0 1592.8 L738.0 1591.1 L738.9 1589.3 L739.9 1587.5 L740.8 1585.8 L741.8 1584.0 L742.7 1582.2 L743.6 1580.5 L744.5 1578.7 L745.4 1576.9 L746.3 1575.1 L747.2 1573.3 L748.1 1571.5 L748.9 1569.7 L749.8 1567.9 L750.6 1566.1 L751.5 1564.3 L752.3 1562.5 L753.2 1560.6 L754.0 1558.8 L754.8 1557.0 L755.6 1555.2 L756.4 1553.3 L757.1 1551.5 L757.9 1549.6 L758.7 1547.8 L759.4 1545.9 L760.2 1544.1 L760.9 1542.2 L761.6 1540.3 L762.3 1538.5 L763.0 1536.6 L763.7 1534.7 L764.4 1532.8 L765.1 1531.0 L765.7 1529.1 L766.4 1527.2 L767.0 1525.3 L767.6 1523.4 L768.3 1521.5 L768.9 1519.6 L769.5 1517.7 L770.0 1515.8 L770.6 1513.8 L771.2 1511.9 L771.7 1510.0 L772.3 1508.1 L772.8 1506.1 L773.3 1504.2 L773.8 1502.3 L774.3 1500.3 L774.8 1498.4 L775.3 1496.5 L775.7 1494.5 L776.2 1492.6 L776.6 1490.6 L777.0 1488.7 L777.5 1486.7 L777.9 1484.7 L778.3 1482.8 L778.7 1480.8 L779.1 1478.9 L779.5 1476.9 L779.9 1474.9 L780.2 1473.0 L780.6 1471.0 L781.0 1469.1 L781.4 1467.1 L781.8 1465.1 L782.2 1463.2 L782.6 1461.2 L783.0 1459.3 L783.5 1457.3 L783.9 1455.4 L784.3 1453.4 L784.8 1451.5 L785.2 1449.5 L785.7 1447.6 L786.2 1445.6 L786.7 1443.7 L787.2 1441.8 L787.8 1439.8 L788.3 1437.9 L788.9 1436.0 L789.5 1434.1 L790.1 1432.2 L790.8 1430.3 L791.4 1428.4 L792.1 1426.5 L792.8 1424.6 L793.4 1422.8 L794.1 1420.9 L794.9 1419.0 L795.6 1417.2 L796.3 1415.3 L797.0 1413.4 L797.8 1411.6 L798.5 1409.7 L799.3 1407.9 L800.2 1406.1 L801.2 1404.4 L802.3 1402.7 L803.7 1401.3 L805.3 1400.1 L807.1 1399.1 L809.0 1398.6 L811.0 1398.7 L812.9 1399.2 L814.7 1400.2 L816.3 1401.4 L817.7 1402.7 L819.0 1404.3 L820.1 1405.9 L821.1 1407.7 L821.9 1409.5 L822.6 1411.4 L823.2 1413.3 L823.8 1415.2 L824.3 1417.1 L824.7 1419.1 L825.1 1421.0 L825.5 1423.0 L825.9 1425.0 L826.2 1426.9 L826.7 1428.9 L827.1 1430.8 L827.5 1432.8 L827.9 1434.8 L828.4 1436.7 L828.8 1438.7 L829.3 1440.6 L829.7 1442.5 L830.2 1444.5 L830.7 1446.4 L831.2 1448.4 L831.7 1450.3 L832.2 1452.2 L832.8 1454.2 L833.3 1456.1 L833.8 1458.0 L834.4 1459.9 L834.9 1461.9 L835.5 1463.8 L836.0 1465.7 L836.6 1467.6 L837.1 1469.5 L837.7 1471.5 L838.3 1473.4 L838.9 1475.3 L839.4 1477.2 L840.0 1479.1 L840.6 1481.0 L841.2 1482.9 L841.8 1484.9 L842.3 1486.8 L842.9 1488.7 L843.5 1490.6 L844.1 1492.5 L844.6 1494.4 L845.2 1496.4 L845.7 1498.3 L846.3 1500.2 L846.8 1502.1 L847.4 1504.0 L847.9 1506.0 L848.4 1507.9 L849.0 1509.8 L849.5 1511.8 L850.0 1513.7 L850.5 1515.6 L851.0 1517.6 L851.4 1519.5 L851.9 1521.5 L852.4 1523.4 L853.0 1525.3 L853.5 1527.3 L854.0 1529.2 L854.6 1531.1 L855.1 1533.0 L855.7 1534.9 L856.3 1536.8 L857.0 1538.7 L857.7 1540.6 L858.4 1542.5 L859.1 1544.3 L859.9 1546.2 L860.7 1548.0 L861.5 1549.8 L862.4 1551.6 L863.3 1553.4 L864.3 1555.2 L865.3 1556.9 L866.3 1558.6 L867.3 1560.3 L868.4 1562.0 L869.5 1563.7 L870.7 1565.3 L871.9 1566.9 L873.1 1568.5 L874.3 1570.1 L875.6 1571.6 L877.0 1573.1 L878.3 1574.6 L879.7 1576.0 L881.1 1577.4 L882.6 1578.8 L884.1 1580.1 L885.6 1581.4 L887.2 1582.6 L888.8 1583.8 L890.4 1585.0 L892.0 1586.1 L893.7 1587.2 L895.4 1588.3 L897.1 1589.3 L898.8 1590.3 L900.6 1591.3 L902.4 1592.2 L904.1 1593.1 L905.9 1594.0 L907.7 1594.9 L909.6 1595.7 L911.4 1596.5 L913.2 1597.3 L915.1 1598.1 L916.9 1598.9 L918.8 1599.6 L920.6 1600.4 L922.5 1601.1 L924.4 1601.8 L926.2 1602.5 L928.1 1603.1 L930.0 1603.8 L931.9 1604.4 L933.8 1605.0 L935.7 1605.6 L937.7 1606.1 L939.6 1606.7 L941.5 1607.2 L943.4 1607.7 L945.4 1608.2 L947.3 1608.6 L949.3 1609.1 L951.2 1609.5 L953.2 1609.9 L955.2 1610.2 L957.1 1610.6 L959.1 1610.9 L961.1 1611.1 L963.1 1611.4 L965.1 1611.6 L967.1 1611.8 L969.1 1612.0 L971.1 1612.1 L973.1 1612.2 L975.1 1612.2 L977.0 1612.3 L979.0 1612.3 L981.0 1612.2 L983.0 1612.1 L985.0 1612.0 L987.0 1611.9 L989.0 1611.7 L991.0 1611.4 L993.0 1611.1 L995.0 1610.8 L996.9 1610.5 L998.9 1610.0 L1000.8 1609.6 L1002.8 1609.1 L1004.7 1608.5 L1006.6 1607.9 L1008.5 1607.3 L1010.4 1606.6 L1012.2 1605.9 L1014.1 1605.1 L1015.9 1604.2 L1017.7 1603.4 L1019.5 1602.4 L1021.2 1601.5 L1022.9 1600.5 L1024.6 1599.4 L1026.3 1598.3 L1028.0 1597.2 L1029.6 1596.1 L1031.2 1594.9 L1032.8 1593.6 L1034.3 1592.4 L1035.9 1591.1 L1037.4 1589.8 L1038.9 1588.5 L1040.3 1587.1 L1041.8 1585.7 L1043.2 1584.3 L1044.6 1582.8 L1045.9 1581.4 L1047.3 1579.9 L1048.6 1578.4 L1049.9 1576.9 L1051.2 1575.3 L1052.4 1573.7 L1053.6 1572.2 L1054.8 1570.6 L1056.0 1568.9 L1057.1 1567.3 L1058.2 1565.6 L1059.3 1564.0 L1060.4 1562.3 L1061.5 1560.6 L1062.5 1558.9 L1063.5 1557.1 L1064.5 1555.4 L1065.4 1553.6 L1066.3 1551.8 L1067.2 1550.1 L1068.1 1548.3 L1068.9 1546.4 L1069.8 1544.6 L1070.6 1542.8 L1071.4 1541.0 L1072.2 1539.2 L1073.0 1537.3 L1073.8 1535.5 L1074.6 1533.7 L1075.4 1531.8 L1076.3 1530.0 L1077.1 1528.2 L1077.9 1526.4 L1078.8 1524.6 L1079.6 1522.8 L1080.5 1521.0 L1081.4 1519.2 L1082.4 1517.4 L1083.3 1515.7 L1084.3 1513.9 L1085.3 1512.2 L1086.4 1510.5 L1087.5 1508.8 L1088.7 1507.2 L1089.9 1505.6 L1091.2 1504.1 L1092.5 1502.6 L1093.9 1501.2 L1095.4 1499.9 L1097.0 1498.7 L1098.7 1497.6 L1100.4 1496.6 L1102.3 1495.8 L1104.2 1495.1 L1106.1 1494.7 L1108.1 1494.6 L1110.1 1494.8 L1112.0 1495.3 L1113.9 1495.9 L1115.8 1496.7 L1117.5 1497.7 L1119.2 1498.8 L1120.8 1500.0 L1122.3 1501.3 L1123.8 1502.7 L1125.1 1504.1 L1126.5 1505.6 L1127.7 1507.1 L1129.0 1508.7 L1130.2 1510.3 L1131.5 1511.8 L1132.7 1513.4 L1133.9 1515.0 L1135.1 1516.6 L1136.2 1518.3 L1137.4 1519.9 L1138.6 1521.5 L1139.7 1523.1 L1140.9 1524.8 L1142.0 1526.4 L1143.2 1528.1 L1144.3 1529.7 L1145.4 1531.4 L1146.5 1533.0 L1147.7 1534.7 L1148.8 1536.3 L1149.9 1538.0 L1151.0 1539.6 L1152.1 1541.3 L1153.2 1543.0 L1154.4 1544.6 L1155.5 1546.3 L1156.6 1547.9 L1157.7 1549.6 L1158.8 1551.2 L1160.0 1552.9 L1161.1 1554.5 L1162.3 1556.2 L1163.4 1557.8 L1164.6 1559.5 L1165.7 1561.1 L1166.9 1562.7 L1168.1 1564.3 L1169.2 1565.9 L1170.4 1567.5 L1171.6 1569.1 L1172.8 1570.7 L1174.1 1572.3 L1175.3 1573.9 L1176.5 1575.5 L1177.8 1577.0 L1179.1 1578.6 L1180.3 1580.1 L1181.6 1581.6 L1183.0 1583.1 L1184.3 1584.6 L1185.6 1586.1 L1187.0 1587.6 L1188.3 1589.0 L1189.7 1590.5 L1191.1 1591.9 L1192.5 1593.3 L1194.0 1594.7 L1195.4 1596.1 L1196.9 1597.4 L1198.4 1598.8 L1199.9 1600.1 L1201.4 1601.4 L1203.0 1602.6 L1204.6 1603.9 L1206.1 1605.1 L1207.8 1606.3 L1209.4 1607.4 L1211.0 1608.6 L1212.7 1609.7 L1214.4 1610.8 L1216.1 1611.8 L1217.8 1612.8 L1219.6 1613.8 L1221.3 1614.7 L1223.1 1615.7 L1224.9 1616.5 L1226.7 1617.4 L1228.5 1618.2 L1230.3 1619.0 L1232.2 1619.8 L1234.0 1620.5 L1235.9 1621.2 L1237.8 1621.9 L1239.7 1622.6 L1241.6 1623.2 L1243.5 1623.8 L1245.4 1624.4 L1247.3 1624.9 L1249.3 1625.5 L1251.2 1626.0 L1253.1 1626.4 L1255.1 1626.9 L1257.0 1627.3 L1259.0 1627.7 L1261.0 1628.1 L1262.9 1628.5 L1264.9 1628.8 L1266.9 1629.1 L1268.9 1629.4 L1270.8 1629.7 L1272.8 1629.9 L1274.8 1630.2 L1276.8 1630.4 L1278.8 1630.6 L1280.8 1630.8 L1282.8 1630.9 L1284.8 1631.1 L1286.8 1631.2 L1288.7 1631.3 L1290.7 1631.5 L1292.7 1631.6 L1294.7 1631.7 L1296.7 1631.7 L1298.7 1631.8 L1300.7 1631.9 L1302.7 1631.9 L1304.7 1632.0 L1306.7 1632.0 L1308.7 1632.1 L1310.7 1632.1 L1312.7 1632.2 L1314.7 1632.2 L1316.7 1632.3 L1318.7 1632.3 L1320.7 1632.4 L1322.7 1632.4 L1324.7 1632.5 L1326.7 1632.5 L1328.7 1632.6 L1330.7 1632.7 L1332.7 1632.8 L1334.7 1632.9 L1336.7 1633.0 L1338.7 1633.1 L1340.7 1633.2 L1342.7 1633.4 L1344.7 1633.5 L1346.7 1633.7 L1348.7 1633.8 L1350.7 1634.0 L1352.7 1634.2 L1354.7 1634.4 L1356.6 1634.6 L1358.6 1634.8 L1360.6 1635.0 L1362.6 1635.3 L1364.6 1635.5 L1366.6 1635.7 L1368.6 1636.0 L1370.5 1636.2 L1372.5 1636.5 L1374.5 1636.8 L1376.5 1637.0 L1378.5 1637.3 L1380.5 1637.6 L1382.4 1637.8 L1384.4 1638.1 L1386.4 1638.4 L1388.4 1638.7 L1390.3 1639.0 L1392.3 1639.3 L1394.3 1639.6 L1396.3 1639.9 L1398.3 1640.2 L1400.2 1640.5 L1402.2 1640.8 L1404.2 1641.1 L1406.2 1641.4 L1408.1 1641.7 L1410.1 1642.0 L1412.1 1642.3 L1414.1 1642.6 L1416.1 1642.9 L1418.0 1643.2 L1420.0 1643.4 L1422.0 1643.7 L1424.0 1644.0 L1426.0 1644.3 L1427.9 1644.6 L1429.9 1644.8 L1431.9 1645.1 L1433.9 1645.4 L1435.9 1645.6 L1437.8 1645.9 L1439.8 1646.1 L1441.8 1646.4 L1443.8 1646.6 L1445.8 1646.8 L1447.8 1647.1 L1449.8 1647.3 L1451.8 1647.5 L1453.7 1647.7 L1455.7 1647.9 L1457.7 1648.1 L1459.7 1648.2 L1461.7 1648.4 L1463.7 1648.5 L1465.7 1648.7 L1467.7 1648.8 L1469.7 1648.9 L1471.7 1649.1 L1473.7 1649.2 L1475.7 1649.3 L1477.7 1649.4 L1479.7 1649.5 L1481.7 1649.6 L1483.7 1649.6 L1485.7 1649.7 L1487.7 1649.8 L1489.7 1649.8 L1491.7 1649.9 L1493.7 1650.0 L1495.7 1650.0 L1497.7 1650.0 L1499.7 1650.1 L1501.7 1650.1 L1503.7 1650.2 L1505.7 1650.2 L1507.7 1650.2 L1509.7 1650.2 L1511.7 1650.3 L1513.7 1650.3 L1515.7 1650.3 L1517.7 1650.3 L1519.7 1650.4 L1521.7 1650.4 L1523.7 1650.4 L1525.7 1650.4 L1527.7 1650.4 L1529.7 1650.5 L1531.7 1650.5 L1533.7 1650.5 L1535.7 1650.5 L1537.7 1650.5 L1539.7 1650.5 L1541.7 1650.6 L1543.7 1650.6 L1545.7 1650.6 L1547.7 1650.6 L1549.7 1650.6 L1551.7 1650.6 L1553.6 1650.6 L1555.6 1650.6 L1557.6 1650.6 L1559.6 1650.6 L1561.6 1650.7 L1563.6 1650.7 L1565.6 1650.7 L1567.6 1650.7 L1569.6 1650.7 L1571.6 1650.7 L1573.6 1650.7 L1575.6 1650.7 L1577.6 1650.7 L1579.6 1650.7 L1581.6 1650.7 L1583.6 1650.7 L1585.6 1650.7 L1587.6 1650.7 L1589.6 1650.7 L1591.6 1650.7 L1593.6 1650.7 L1595.6 1650.7 L1597.6 1650.7 L1599.6 1650.7 L1601.6 1650.7 L1603.6 1650.7 L1605.6 1650.7 L1607.6 1650.7 L1609.6 1650.6 L1611.6 1650.6 L1613.6 1650.6 L1615.6 1650.6 L1617.6 1650.6 L1619.6 1650.6 L1621.6 1650.6 L1623.6 1650.6 L1625.6 1650.6 L1627.6 1650.6 L1629.6 1650.6 L1631.6 1650.6 L1633.6 1650.5 L1635.6 1650.5 L1637.6 1650.5 L1639.6 1650.5 L1641.6 1650.5 L1643.6 1650.5 L1645.6 1650.5 L1647.6 1650.5 L1649.6 1650.4 L1651.6 1650.4 L1653.6 1650.4 L1655.6 1650.4 L1657.6 1650.4 L1659.6 1650.4 L1661.6 1650.4 L1663.6 1650.3 L1665.6 1650.3 L1667.6 1650.3 L1669.6 1650.3 L1671.6 1650.3 L1673.6 1650.3 L1675.6 1650.3 L1677.6 1650.2 L1679.6 1650.2 L1681.6 1650.2 L1683.6 1650.2 L1685.6 1650.2 L1687.6 1650.1 L1689.6 1650.1 L1691.6 1650.1 L1693.6 1650.1 L1695.6 1650.1 L1697.6 1650.1 L1699.6 1650.0 L1701.6 1650.0 L1703.6 1650.0 L1705.6 1650.0 L1707.6 1650.0 L1709.6 1650.0 L1711.6 1649.9 L1713.6 1649.9 L1715.6 1649.9 L1717.6 1649.9 L1719.6 1649.9 L1721.6 1649.8 L1723.6 1649.8 L1725.6 1649.8 L1727.6 1649.8 L1729.6 1649.8 L1731.6 1649.7 L1733.6 1649.7 L1735.6 1649.7 L1737.6 1649.7 L1739.6 1649.7 L1741.6 1649.7 L1743.6 1649.6 L1745.6 1649.6 L1747.6 1649.6 L1749.6 1649.6 L1751.6 1649.6 L1753.6 1649.6 L1755.6 1649.5 L1757.6 1649.5 L1759.6 1649.5 L1761.6 1649.5 L1763.6 1649.5 L1765.6 1649.4 L1767.6 1649.4 L1769.6 1649.4 L1771.6 1649.4 L1773.6 1649.4 L1775.6 1649.4 L1777.6 1649.4 L1779.6 1649.3 L1781.6 1649.3 L1783.6 1649.3 L1785.6 1649.3 L1787.6 1649.3 L1789.6 1649.3 L1791.6 1649.3 L1793.6 1649.2 L1795.6 1649.2 L1797.6 1649.2 L1799.6 1649.2 L1801.6 1649.2 L1803.6 1649.2 L1805.6 1649.2 L1807.6 1649.2 L1809.6 1649.1 L1811.6 1649.1 L1813.6 1649.1 L1815.6 1649.1 L1817.6 1649.1 L1819.6 1649.1 L1821.6 1649.1 L1823.6 1649.1 L1825.6 1649.1 L1827.6 1649.1 L1829.6 1649.1 L1831.6 1649.1 L1833.6 1649.0 L1835.6 1649.0 L1837.6 1649.0 L1839.6 1649.0 L1841.6 1649.0 L1843.6 1649.0 L1845.6 1649.0 L1847.6 1649.0 L1849.6 1649.0 L1851.6 1649.0 L1853.6 1649.0 L1855.6 1649.0 L1857.6 1649.0 L1859.6 1649.0 L1861.6 1649.0 L1863.6 1649.0 L1865.6 1649.0 L1867.6 1649.0 L1869.6 1649.0 L1871.6 1649.0 L1873.6 1649.0 L1875.6 1649.0 L1877.6 1649.0 L1879.6 1649.0 L1881.6 1649.1 L1883.6 1649.1 L1885.6 1649.1 L1887.6 1649.1 L1889.6 1649.1 L1891.6 1649.1 L1893.6 1649.1 L1895.6 1649.1 L1897.6 1649.1 L1899.6 1649.1 L1901.6 1649.1 L1903.6 1649.2 L1905.6 1649.2 L1907.6 1649.2 L1909.6 1649.2 L1911.6 1649.2 L1913.6 1649.2 L1915.6 1649.2 L1917.6 1649.3 L1919.6 1649.3 L1921.6 1649.3 L1923.6 1649.3 L1925.6 1649.3 L1927.6 1649.4 L1929.6 1649.4 L1931.6 1649.4 L1933.6 1649.4 L1935.6 1649.4 L1937.6 1649.4 L1939.6 1649.5 L1941.6 1649.5 L1943.6 1649.5 L1945.6 1649.5 L1947.6 1649.6 L1949.6 1649.6 L1951.6 1649.6 L1953.6 1649.6 L1955.6 1649.6 L1957.6 1649.7 L1959.6 1649.7 L1961.6 1649.7 L1963.6 1649.7 L1965.6 1649.8 L1967.6 1649.8 L1969.6 1649.8 L1971.6 1649.8 L1973.6 1649.9 L1975.6 1649.9 L1977.6 1649.9 L1979.6 1649.9 L1981.6 1650.0 L1983.6 1650.0 L1985.6 1650.0 L1987.6 1650.0 L1989.6 1650.1 L1991.6 1650.1 L1993.6 1650.1 L1995.6 1650.2 L1997.6 1650.2 L1999.6 1650.2 L2001.6 1650.2 L2003.6 1650.3 L2005.6 1650.3 L2007.6 1650.3 L2009.6 1650.3 L2011.6 1650.4 L2013.6 1650.4 L2015.6 1650.4 L2017.6 1650.5 L2019.6 1650.5 L2021.6 1650.5 L2023.6 1650.5 L2025.6 1650.6 L2027.6 1650.6 L2029.6 1650.6 L2031.6 1650.7 L2033.6 1650.7 L2035.6 1650.7 L2037.6 1650.7 L2039.6 1650.8 L2041.6 1650.8 L2043.6 1650.8 L2045.6 1650.9 L2047.6 1650.9 L2049.6 1650.9 L2051.6 1650.9 L2053.6 1651.0 L2055.6 1651.0 L2057.6 1651.0 L2059.6 1651.1 L2061.6 1651.1 L2063.6 1651.1 L2065.6 1651.1 L2067.6 1651.2 L2069.6 1651.2 L2071.6 1651.2 L2073.6 1651.2 L2075.6 1651.3 L2077.6 1651.3 L2079.6 1651.3 L2081.6 1651.3 L2083.6 1651.4 L2085.6 1651.4 L2087.6 1651.4 L2089.6 1651.5 L2091.6 1651.5 L2093.6 1651.5 L2095.6 1651.5 L2097.6 1651.5 L2099.6 1651.6 L2101.6 1651.6 L2103.6 1651.6 L2105.6 1651.6 L2107.6 1651.7 L2109.6 1651.7 L2111.6 1651.7 L2113.6 1651.7 L2115.6 1651.8 L2117.6 1651.8 L2119.6 1651.8 L2121.6 1651.8 L2123.6 1651.8 L2125.6 1651.9 L2127.6 1651.9 L2129.5 1651.9 L2131.5 1651.9 L2133.5 1651.9 L2135.5 1652.0 L2137.5 1652.0 L2139.5 1652.0 L2141.5 1652.0 L2143.5 1652.0 L2145.5 1652.0 L2147.5 1652.0 L2149.5 1652.1 L2151.5 1652.1 L2153.5 1652.1 L2155.5 1652.1 L2157.5 1652.1 L2159.5 1652.1 L2161.5 1652.1 L2163.5 1652.2 L2165.5 1652.2 L2167.5 1652.2 L2169.5 1652.2 L2171.5 1652.2 L2173.5 1652.2 L2175.5 1652.2 L2177.5 1652.2 L2179.5 1652.2 L2181.5 1652.2 L2183.5 1652.2 L2185.5 1652.2 L2187.5 1652.2 L2189.5 1652.3 L2191.5 1652.3 L2193.5 1652.3 L2195.5 1652.3 L2197.5 1652.3 L2199.5 1652.3 L2201.5 1652.3 L2203.5 1652.3 L2205.5 1652.3 L2207.5 1652.3 L2209.5 1652.3 L2211.5 1652.3 L2213.5 1652.3 L2215.5 1652.2 L2217.5 1652.2 L2219.5 1652.2 L2221.5 1652.2 L2223.5 1652.2 L2225.5 1652.2 L2227.5 1652.2 L2229.5 1652.2 L2231.5 1652.2 L2233.5 1652.2 L2235.5 1652.2 L2237.5 1652.1 L2239.5 1652.1 L2241.5 1652.1 L2243.5 1652.1 L2245.5 1652.1 L2247.5 1652.1 L2249.5 1652.1 L2251.5 1652.0 L2253.5 1652.0 L2255.5 1652.0 L2257.5 1652.0 L2259.5 1652.0 L2261.5 1651.9 L2263.5 1651.9 L2265.5 1651.9 L2267.5 1651.9 L2269.5 1651.8 L2271.5 1651.8 L2273.5 1651.8 L2275.5 1651.7 L2277.5 1651.7 L2279.5 1651.7 L2281.5 1651.6 L2283.5 1651.6 L2285.5 1651.6 L2287.5 1651.5 L2289.5 1651.5 L2291.5 1651.5 L2293.5 1651.4 L2295.5 1651.4 L2297.5 1651.3 L2299.5 1651.3 L2301.5 1651.3 L2303.5 1651.2 L2305.5 1651.2 L2307.5 1651.1 L2309.5 1651.1 L2311.5 1651.0 L2313.5 1651.0 L2315.5 1650.9 L2317.5 1650.9 L2319.5 1650.8 L2321.5 1650.8 L2323.5 1650.7 L2325.5 1650.7 L2327.5 1650.6 L2329.5 1650.6 L2331.5 1650.5 L2333.5 1650.4 L2335.5 1650.4 L2337.5 1650.3 L2339.5 1650.2 L2341.5 1650.2 L2343.5 1650.1 L2345.5 1650.0 L2347.5 1650.0 L2349.5 1649.9"/>
</g>
<rect x="195.5" y="41.5" width="2154.3" height="1733.8" fill="none" stroke="#000" stroke-width="6.8"/>
<g stroke="#000" stroke-width="5.6"><line x1="286.9" y1="1775" x2="286.9" y2="1809.5"/><line x1="516.0" y1="1775" x2="516.0" y2="1791.5"/><line x1="745.0" y1="1775" x2="745.0" y2="1809.5"/><line x1="974.1" y1="1775" x2="974.1" y2="1791.5"/><line x1="1203.2" y1="1775" x2="1203.2" y2="1809.5"/><line x1="1432.3" y1="1775" x2="1432.3" y2="1791.5"/><line x1="1661.3" y1="1775" x2="1661.3" y2="1809.5"/><line x1="1890.4" y1="1775" x2="1890.4" y2="1791.5"/><line x1="2119.5" y1="1775" x2="2119.5" y2="1809.5"/><line x1="2348.6" y1="1775" x2="2348.6" y2="1791.5"/></g>
<g font-family="'Liberation Sans', Arial, sans-serif" font-size="92.2" fill="#000" text-anchor="middle">
<text x="286.9" y="1903">0</text>
<text x="745.0" y="1903">100</text>
<text x="1203.2" y="1903">200</text>
<text x="1661.3" y="1903">300</text>
<text x="2119.5" y="1903">400</text>
</g>
<text font-family="'Liberation Sans', Arial, sans-serif" font-size="99.5" fill="#000" style="font-kerning:none" transform="translate(885.6,2077) scale(1.0000,1.0380)">Temperature (°C)</text>
<text font-family="'Liberation Sans', Arial, sans-serif" font-size="99.5" fill="#000" transform="translate(99,1394.3) rotate(-90) scale(0.9958,1.035)">H<tspan font-size="66" dy="26">2</tspan><tspan dy="-26"> Consumption (a.u.)</tspan></text>
<g font-family="'Liberation Sans', Arial, sans-serif" font-size="75.5" fill="#000" text-anchor="end">
<text transform="translate(2318.7,505.5) scale(0.9766,1)">0.6Pt-0.4Pd/CZL</text>
<text transform="translate(2316.3,888.7) scale(0.9810,1)">0.6Pt-0.4Pd/CZL-a</text>
<text transform="translate(2321.7,1210.2) scale(0.9759,1)">0.6Pt-0.4Pd/CZL-a(R550)</text>
<text transform="translate(2321.7,1606.6) scale(0.9759,1)">0.6Pt-0.4Pd/CZL-a(R700)</text>
</g>
<g font-family="'Noto Serif CJK SC', 'Liberation Serif', serif" font-size="67.3" fill="#000">
<text transform="translate(634.5,175.6) scale(1.127,1)">α</text>
<text transform="translate(361.7,733.4) scale(1.127,1)">α</text>
<text transform="translate(657.2,756.2) scale(1.127,1)">α</text>
<text transform="translate(731.0,1159.5) scale(1.127,1)">α</text>
<text transform="translate(715.6,1466.2) scale(1.127,1)">α</text>
<text transform="translate(1102.2,169.7) scale(1.127,1)">β</text>
<text transform="translate(1090.6,928.4) scale(1.127,1)">β</text>
<text transform="translate(1122.0,1082.6) scale(1.127,1)">β</text>
<text transform="translate(1118.5,1456.8) scale(1.127,1)">β</text>
</g>
<text font-family="'Liberation Serif', serif" font-size="86" fill="#000" x="409.4" y="734.8">'</text>
</svg></body></html>
